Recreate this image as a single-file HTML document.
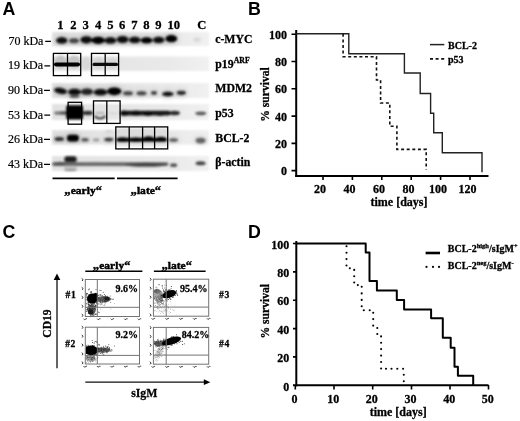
<!DOCTYPE html>
<html><head><meta charset="utf-8">
<style>
html,body{margin:0;padding:0;background:#fff;}
body{width:520px;height:421px;overflow:hidden;}
svg{display:block;will-change:transform;filter:blur(0.35px);}
.sans{font-family:"Liberation Sans",sans-serif;font-weight:bold;}
.ser{font-family:"Liberation Serif",serif;}
.ser{stroke:#000;stroke-width:0.2px;}
.b{font-weight:bold;stroke:#000;stroke-width:0.28px;}
</style></head>
<body>
<svg width="520" height="421" viewBox="0 0 520 421">
<defs>
<filter id="bl07" x="-50%" y="-50%" width="200%" height="200%"><feGaussianBlur stdDeviation="0.7"/></filter>
<filter id="bandf" x="-50%" y="-80%" width="200%" height="260%"><feGaussianBlur in="SourceGraphic" stdDeviation="1.25" result="a"/><feGaussianBlur in="SourceGraphic" stdDeviation="3.2" result="b"/><feComponentTransfer in="b" result="c"><feFuncA type="linear" slope="0.35"/></feComponentTransfer><feMerge><feMergeNode in="c"/><feMergeNode in="a"/></feMerge></filter>
<filter id="bl1" x="-50%" y="-50%" width="200%" height="200%"><feGaussianBlur stdDeviation="1"/></filter>
<filter id="bl2" x="-50%" y="-50%" width="200%" height="200%"><feGaussianBlur stdDeviation="1.3"/></filter>
<filter id="bl3" x="-50%" y="-50%" width="200%" height="200%"><feGaussianBlur stdDeviation="2.5"/></filter>
</defs>
<rect width="520" height="421" fill="#fff"/>

<!-- panel letters -->
<g class="sans" font-size="17.8" fill="#000">
<text x="2.6" y="14.8">A</text>
<text x="248" y="15">B</text>
<text x="2.6" y="237.9">C</text>
<text x="248" y="237.7">D</text>
</g>


<!-- ============ PANEL A ============ -->
<g id="panelA">
<g class="ser b" font-size="12.6" fill="#000" text-anchor="middle">
<text x="60.5" y="28.6">1</text><text x="73.4" y="28.6">2</text><text x="85.7" y="28.6">3</text><text x="98.2" y="28.6">4</text><text x="110.3" y="28.6">5</text><text x="122.1" y="28.6">6</text><text x="134.4" y="28.6">7</text><text x="146.5" y="28.6">8</text><text x="158.5" y="28.6">9</text><text x="173.8" y="28.6">10</text><text x="201.7" y="28.6">C</text>
</g>
<g class="ser" font-size="12" fill="#000">
<text x="8.4" y="44.8">70 kDa</text>
<text x="8" y="68.5">19 kDa</text>
<text x="8" y="93.8">90 kDa</text>
<text x="8" y="118.8">53 kDa</text>
<text x="8" y="142.8">26 kDa</text>
<text x="8" y="167.5">43 kDa</text>
</g>
<g stroke="#000" stroke-width="1.3">
<path d="M45.2 41.3 H51 M44.4 65.9 H50.2 M44 90.4 H49.9 M44.3 115.2 H50.2 M44 139.4 H50 M44 164.4 H50"/>
</g>
<g class="ser b" font-size="11.8" fill="#000">
<text x="215.2" y="43">c-MYC</text>
<text x="215.3" y="67.7">p19<tspan font-size="7.8" dy="-4.3">ARF</tspan></text>
<text x="215.3" y="92.4">MDM2</text>
<text x="215.3" y="117.1">p53</text>
<text x="215.3" y="141.7">BCL-2</text>
<text x="215.3" y="165.5">&#946;-actin</text>
</g>
<!-- strips -->
<defs>
<linearGradient id="sg" x1="0" x2="1" y1="0" y2="0"><stop offset="0" stop-color="#e2e2e2"/><stop offset="0.75" stop-color="#e9e9e9"/><stop offset="1" stop-color="#f1f1f1"/></linearGradient>
</defs>
<g fill="url(#sg)" filter="url(#bl2)">
<rect x="52" y="32" width="157" height="14"/>
<rect x="52" y="56.5" width="157" height="14.5"/>
<rect x="52" y="83" width="157" height="15"/>
<rect x="52" y="104" width="157" height="16"/>
<rect x="52" y="130" width="157" height="14.5"/>
<rect x="52" y="156" width="157" height="15"/>
</g>
<g filter="url(#bl2)"><ellipse cx="60.5" cy="62" rx="6.2" ry="6.5" fill="#c2c2c2"/><ellipse cx="74" cy="62" rx="6.2" ry="6.5" fill="#c6c6c6"/><ellipse cx="85.8" cy="63.5" rx="4.5" ry="6.5" fill="#d8d8d8"/><ellipse cx="98.5" cy="63" rx="6" ry="6" fill="#d4d4d4"/><ellipse cx="112" cy="63" rx="6" ry="6" fill="#d8d8d8"/></g>
<g filter="url(#bandf)"><ellipse cx="61.8" cy="40.4" rx="5.6" ry="3.2" fill="#0a0a0a"/><ellipse cx="74.0" cy="40.8" rx="5.0" ry="2.5" fill="#454545"/><ellipse cx="86.3" cy="39.8" rx="5.9" ry="3.6" fill="#0d0d0d"/><ellipse cx="98.2" cy="40.3" rx="6.6" ry="3.6" fill="#000"/><ellipse cx="110.4" cy="40.4" rx="6.0" ry="3.2" fill="#0a0a0a"/><ellipse cx="122.6" cy="39.5" rx="5.9" ry="3.5" fill="#0a0a0a"/><ellipse cx="134.7" cy="39.9" rx="5.8" ry="3.2" fill="#0d0d0d"/><ellipse cx="146.6" cy="40.3" rx="5.9" ry="3.0" fill="#000"/><ellipse cx="158.7" cy="39.9" rx="5.7" ry="3.2" fill="#0a0a0a"/><ellipse cx="171.3" cy="38.7" rx="5.9" ry="3.6" fill="#000"/><ellipse cx="197" cy="39.5" rx="3.5" ry="2" fill="#d8d8d8"/></g>
<g filter="url(#bl07)">
<rect x="54" y="62.4" width="26" height="4" rx="1.8" fill="#000"/>
<rect x="92.5" y="62.8" width="25.5" height="3.3" rx="1.5" fill="#0a0a0a"/>
</g>
<g filter="url(#bandf)"><ellipse cx="60.6" cy="90.9" rx="6.6" ry="2.9" fill="#0d0d0d" transform="rotate(10 60.6 90.9)"/><ellipse cx="74.5" cy="92.0" rx="6.5" ry="3.3" fill="#111"/><ellipse cx="74.5" cy="96.2" rx="5" ry="1.5" fill="#555"/><ellipse cx="87" cy="91.7" rx="6.0" ry="3.1" fill="#222"/><ellipse cx="100.5" cy="92.2" rx="6.8" ry="3.1" fill="#0a0a0a"/><ellipse cx="114.3" cy="91.3" rx="7.0" ry="3.9" fill="#000"/><ellipse cx="128" cy="93.2" rx="5.0" ry="2.0" fill="#444"/><ellipse cx="141.5" cy="93.2" rx="5.0" ry="2.0" fill="#444"/><ellipse cx="154" cy="92.9" rx="2.9" ry="1.9" fill="#3a3a3a"/><ellipse cx="167.8" cy="94" rx="5.8" ry="2.2" fill="#0d0d0d"/><ellipse cx="181.3" cy="92.8" rx="4.6" ry="2.1" fill="#262626"/></g>
<g filter="url(#bl2)">
<ellipse cx="58.5" cy="113" rx="4.5" ry="1.8" fill="#777"/>
<rect x="60" y="111.2" width="32" height="3.6" rx="1.8" fill="#555"/>
<ellipse cx="88" cy="113" rx="5" ry="2.2" fill="#333"/>
<ellipse cx="100" cy="108.5" rx="5.5" ry="4" fill="#e2e2e2"/>
<ellipse cx="100" cy="113" rx="5" ry="1.3" fill="#b5b5b5"/>
<ellipse cx="113" cy="113.3" rx="5" ry="1.1" fill="#d5d5d5"/>
<rect x="120.5" y="110.8" width="50" height="4.6" rx="2.2" fill="#141414"/>
<ellipse cx="124" cy="113.2" rx="4" ry="2.6" fill="#111"/>
<ellipse cx="136" cy="113" rx="4" ry="2.6" fill="#111"/>
<ellipse cx="148" cy="113.4" rx="4" ry="2.5" fill="#111"/>
<ellipse cx="160" cy="113.4" rx="4" ry="2.4" fill="#151515"/>
<ellipse cx="174.5" cy="113" rx="5.5" ry="2.3" fill="#2a2a2a"/>
<ellipse cx="200.8" cy="113.3" rx="5.6" ry="1.9" fill="#5a5a5a"/>
</g>
<g filter="url(#bl1)">
<rect x="66.2" y="105.2" width="16.8" height="14.4" rx="2" fill="#000"/>
<path d="M94.5 116 Q100 121 105.5 116" stroke="#333" stroke-width="2" fill="none"/>
</g>
<g filter="url(#bandf)"><ellipse cx="59.3" cy="139" rx="4.8" ry="2.0" fill="#333"/><rect x="67" y="134.8" width="11.8" height="6.8" rx="3" fill="#000"/><ellipse cx="85" cy="139.8" rx="3.8" ry="1.8" fill="#555"/><ellipse cx="96.2" cy="140" rx="3.2" ry="1.4" fill="#999"/><ellipse cx="108.8" cy="139.6" rx="4.6" ry="1.8" fill="#3a3a3a"/><ellipse cx="108.8" cy="131.6" rx="4" ry="1.2" fill="#d0d0d0"/><ellipse cx="173.5" cy="140" rx="4.6" ry="1.8" fill="#5a5a5a"/><ellipse cx="200.6" cy="140.6" rx="5" ry="2.8" fill="#666"/></g>
<g filter="url(#bl2)">
<rect x="64" y="156.5" width="13" height="14.5" fill="#c4c4c4"/>
<rect x="52" y="162.3" width="116.5" height="3.6" rx="1.8" fill="#666"/>
<ellipse cx="173.6" cy="165.2" rx="3.6" ry="1.9" fill="#555"/>
<ellipse cx="60" cy="163.6" rx="6" ry="1.8" fill="#555"/>
<ellipse cx="96" cy="164" rx="14" ry="1.5" fill="#6a6a6a"/>
<ellipse cx="146" cy="164.8" rx="21" ry="2" fill="#444"/>
<rect x="64.3" y="156.3" width="12.4" height="6" rx="2.5" fill="#1e1e1e"/>
<ellipse cx="70.5" cy="170.1" rx="5.5" ry="1" fill="#8a8a8a"/>
<ellipse cx="200.6" cy="163.3" rx="5" ry="2" fill="#444"/>
</g>
<g filter="url(#bl2)">
<rect x="116" y="128.5" width="51.5" height="9" fill="#dcdcdc"/>
<rect x="116" y="141" width="51.5" height="5" fill="#e0e0e0"/>
</g>
<g filter="url(#bl1)">
<rect x="116.3" y="137.7" width="50.8" height="4" rx="2" fill="#000"/>
<ellipse cx="122.6" cy="139.6" rx="5.5" ry="2.3" fill="#000"/>
<ellipse cx="135.9" cy="139.7" rx="5.5" ry="2.2" fill="#000"/>
<ellipse cx="148.6" cy="138.7" rx="5.5" ry="2.5" fill="#000"/>
<ellipse cx="161.1" cy="139.2" rx="5.5" ry="2.4" fill="#000"/>
</g>
<!-- boxes -->
<g fill="none" stroke="#000" stroke-width="1.3">
<rect x="53.4" y="53.4" width="27.3" height="22.2"/><path d="M67.5 53.4 V75.6"/>
<rect x="91.5" y="53.4" width="27.1" height="22.2"/><path d="M105.2 53.4 V75.6"/>
<rect x="68.1" y="102.3" width="13.5" height="21.9"/>
<rect x="93.5" y="100.9" width="26.6" height="22.5"/><path d="M106.8 100.9 V123.4"/>
<rect x="115.8" y="126.9" width="51.9" height="22"/><path d="M129.2 126.9 V148.9 M142.6 126.9 V148.9 M154.6 126.9 V148.9"/>
</g>
<g stroke="#000" stroke-width="1.7">
<path d="M52.5 178.3 H114.7 M117 178.3 H177.6"/>
</g>
<g class="ser b" font-size="11.3" fill="#000" style="stroke-width:0.45px">
<text transform="translate(64.3 194) scale(1.02 1)"><tspan font-size="12.6">&#8222;</tspan>early<tspan font-size="12" dy="1.2">&#8220;</tspan></text>
<text transform="translate(130.5 194) scale(1.02 1)"><tspan font-size="12.6">&#8222;</tspan>late<tspan font-size="12" dy="1.2">&#8220;</tspan></text>
</g>
</g>


<!-- ============ PANEL C ============ -->
<g id="panelC">
<defs>
<clipPath id="c1"><rect x="85.8" y="280" width="53.2" height="36"/></clipPath>
<clipPath id="c3"><rect x="153.9" y="279.7" width="54.3" height="36"/></clipPath>
<clipPath id="c2"><rect x="85.8" y="327.7" width="53.2" height="35.8"/></clipPath>
<clipPath id="c4"><rect x="153.9" y="327.9" width="54.3" height="35.8"/></clipPath>
</defs>
<g class="ser b" font-size="11.3" fill="#000" style="stroke-width:0.45px">
<text transform="translate(92.8 269) scale(1.02 1)"><tspan font-size="12.6">&#8222;</tspan>early<tspan font-size="12" dy="1.2">&#8220;</tspan></text>
<text transform="translate(161.4 268.8) scale(1.02 1)"><tspan font-size="12.6">&#8222;</tspan>late<tspan font-size="12" dy="1.2">&#8220;</tspan></text>
</g>
<path d="M85.3 271.3 H142.4 M153.9 271.3 H205.6" stroke="#000" stroke-width="1.4"/>
<g clip-path="url(#c1)"><g filter="url(#bl07)"><ellipse cx="104.5" cy="299" rx="6.5" ry="3" fill="#555"/><ellipse cx="91.6" cy="309.5" rx="4.2" ry="5.2" fill="#555"/></g><g><circle cx="87.2" cy="300.8" r="0.5" fill="#636363"/><circle cx="87.4" cy="300.3" r="0.5" fill="#4b4b4b"/><circle cx="95.9" cy="306.2" r="0.5" fill="#3c3c3c"/><circle cx="87.2" cy="293.8" r="0.5" fill="#0c0c0c"/><circle cx="90.4" cy="300.0" r="0.5" fill="#444444"/><circle cx="95.4" cy="293.2" r="0.5" fill="#050505"/><circle cx="89.0" cy="296.8" r="0.5" fill="#393939"/><circle cx="89.2" cy="294.4" r="0.5" fill="#141414"/><circle cx="86.6" cy="293.7" r="0.5" fill="#080808"/><circle cx="95.6" cy="300.2" r="0.5" fill="#1e1e1e"/><circle cx="86.3" cy="294.9" r="0.5" fill="#292929"/><circle cx="84.6" cy="302.1" r="0.5" fill="#424242"/><circle cx="93.2" cy="302.7" r="0.5" fill="#000000"/><circle cx="90.1" cy="295.2" r="0.5" fill="#232323"/><circle cx="87.9" cy="302.1" r="0.5" fill="#6b6b6b"/><circle cx="95.9" cy="300.8" r="0.5" fill="#616161"/><circle cx="93.3" cy="302.6" r="0.5" fill="#080808"/><circle cx="90.8" cy="298.4" r="0.5" fill="#0d0d0d"/><circle cx="95.4" cy="295.8" r="0.5" fill="#020202"/><circle cx="92.9" cy="299.1" r="0.5" fill="#1a1a1a"/><circle cx="94.2" cy="298.6" r="0.5" fill="#303030"/><circle cx="97.4" cy="298.7" r="0.5" fill="#090909"/><circle cx="90.0" cy="298.1" r="0.5" fill="#565656"/><circle cx="92.6" cy="301.0" r="0.5" fill="#2a2a2a"/><circle cx="97.5" cy="299.6" r="0.5" fill="#0f0f0f"/><circle cx="97.6" cy="304.1" r="0.5" fill="#010101"/><circle cx="100.4" cy="302.0" r="0.5" fill="#161616"/><circle cx="91.6" cy="296.7" r="0.5" fill="#414141"/><circle cx="95.5" cy="305.5" r="0.5" fill="#101010"/><circle cx="88.8" cy="301.2" r="0.5" fill="#323232"/><circle cx="90.0" cy="300.6" r="0.5" fill="#222222"/><circle cx="101.0" cy="290.6" r="0.5" fill="#4b4b4b"/><circle cx="89.6" cy="307.4" r="0.5" fill="#1a1a1a"/><circle cx="98.6" cy="312.0" r="0.5" fill="#4d4d4d"/><circle cx="91.5" cy="297.7" r="0.5" fill="#121212"/><circle cx="93.6" cy="302.4" r="0.5" fill="#626262"/><circle cx="86.1" cy="294.1" r="0.5" fill="#313131"/><circle cx="94.6" cy="300.0" r="0.5" fill="#4a4a4a"/><circle cx="92.3" cy="298.6" r="0.5" fill="#2f2f2f"/><circle cx="89.3" cy="302.5" r="0.5" fill="#4b4b4b"/><circle cx="86.8" cy="299.8" r="0.5" fill="#6e6e6e"/><circle cx="87.9" cy="303.1" r="0.5" fill="#272727"/><circle cx="99.9" cy="295.0" r="0.5" fill="#1f1f1f"/><circle cx="92.4" cy="296.8" r="0.5" fill="#505050"/><circle cx="95.6" cy="298.2" r="0.5" fill="#313131"/><circle cx="97.4" cy="295.3" r="0.5" fill="#353535"/><circle cx="94.9" cy="299.8" r="0.5" fill="#414141"/><circle cx="96.1" cy="298.5" r="0.5" fill="#5a5a5a"/><circle cx="89.1" cy="302.0" r="0.5" fill="#4c4c4c"/><circle cx="87.2" cy="299.5" r="0.5" fill="#5c5c5c"/><circle cx="95.2" cy="298.9" r="0.5" fill="#3d3d3d"/><circle cx="84.4" cy="296.2" r="0.5" fill="#4e4e4e"/><circle cx="95.6" cy="300.5" r="0.5" fill="#1a1a1a"/><circle cx="92.8" cy="297.6" r="0.5" fill="#343434"/><circle cx="91.3" cy="299.7" r="0.5" fill="#161616"/><circle cx="91.7" cy="304.3" r="0.5" fill="#101010"/><circle cx="94.9" cy="300.5" r="0.5" fill="#393939"/><circle cx="99.5" cy="298.4" r="0.5" fill="#585858"/><circle cx="81.8" cy="297.8" r="0.5" fill="#4b4b4b"/><circle cx="93.7" cy="299.4" r="0.5" fill="#2d2d2d"/><circle cx="89.2" cy="288.9" r="0.5" fill="#020202"/><circle cx="91.3" cy="298.2" r="0.5" fill="#080808"/><circle cx="92.3" cy="295.5" r="0.5" fill="#090909"/><circle cx="97.9" cy="301.6" r="0.5" fill="#5e5e5e"/><circle cx="103.2" cy="301.9" r="0.5" fill="#5e5e5e"/><circle cx="90.5" cy="292.1" r="0.5" fill="#2b2b2b"/><circle cx="88.6" cy="304.3" r="0.5" fill="#090909"/><circle cx="96.1" cy="296.0" r="0.5" fill="#656565"/><circle cx="98.1" cy="300.1" r="0.5" fill="#010101"/><circle cx="89.6" cy="296.3" r="0.5" fill="#4a4a4a"/><circle cx="94.6" cy="299.3" r="0.5" fill="#0b0b0b"/><circle cx="83.5" cy="289.0" r="0.5" fill="#353535"/><circle cx="92.2" cy="295.1" r="0.5" fill="#5e5e5e"/><circle cx="91.1" cy="294.8" r="0.5" fill="#3b3b3b"/><circle cx="93.8" cy="297.7" r="0.5" fill="#606060"/><circle cx="88.9" cy="298.9" r="0.5" fill="#0b0b0b"/><circle cx="89.5" cy="299.6" r="0.5" fill="#595959"/><circle cx="98.9" cy="304.0" r="0.5" fill="#545454"/><circle cx="95.9" cy="297.7" r="0.5" fill="#010101"/><circle cx="91.1" cy="300.9" r="0.5" fill="#4e4e4e"/><circle cx="93.6" cy="301.6" r="0.5" fill="#2b2b2b"/><circle cx="90.1" cy="295.4" r="0.5" fill="#1e1e1e"/><circle cx="89.6" cy="304.7" r="0.5" fill="#191919"/><circle cx="87.3" cy="293.5" r="0.5" fill="#606060"/><circle cx="100.9" cy="294.8" r="0.5" fill="#313131"/><circle cx="94.8" cy="308.5" r="0.5" fill="#1a1a1a"/><circle cx="96.3" cy="302.9" r="0.5" fill="#6b6b6b"/><circle cx="93.8" cy="298.5" r="0.5" fill="#080808"/><circle cx="96.3" cy="298.2" r="0.5" fill="#151515"/><circle cx="96.7" cy="302.3" r="0.5" fill="#1b1b1b"/><circle cx="95.0" cy="295.6" r="0.5" fill="#424242"/><circle cx="88.8" cy="299.3" r="0.5" fill="#6b6b6b"/><circle cx="96.3" cy="294.3" r="0.5" fill="#292929"/><circle cx="93.8" cy="299.7" r="0.5" fill="#4d4d4d"/><circle cx="99.8" cy="300.9" r="0.5" fill="#494949"/><circle cx="88.7" cy="304.0" r="0.5" fill="#484848"/><circle cx="95.3" cy="299.5" r="0.5" fill="#3a3a3a"/><circle cx="95.7" cy="305.9" r="0.5" fill="#222222"/><circle cx="93.0" cy="301.5" r="0.5" fill="#060606"/><circle cx="95.1" cy="299.0" r="0.5" fill="#0d0d0d"/><circle cx="88.2" cy="294.7" r="0.5" fill="#676767"/><circle cx="91.5" cy="300.4" r="0.5" fill="#191919"/><circle cx="94.4" cy="303.7" r="0.5" fill="#161616"/><circle cx="91.1" cy="292.3" r="0.5" fill="#444444"/><circle cx="92.2" cy="296.6" r="0.5" fill="#222222"/><circle cx="93.8" cy="294.1" r="0.5" fill="#424242"/><circle cx="77.2" cy="299.2" r="0.5" fill="#141414"/><circle cx="86.4" cy="303.8" r="0.5" fill="#1c1c1c"/><circle cx="101.9" cy="304.3" r="0.5" fill="#5c5c5c"/><circle cx="89.0" cy="302.2" r="0.5" fill="#191919"/><circle cx="85.7" cy="292.7" r="0.5" fill="#303030"/><circle cx="86.4" cy="297.3" r="0.5" fill="#404040"/><circle cx="96.0" cy="289.5" r="0.5" fill="#3b3b3b"/><circle cx="86.8" cy="309.8" r="0.5" fill="#0c0c0c"/><circle cx="91.3" cy="291.6" r="0.5" fill="#525252"/><circle cx="94.9" cy="298.2" r="0.5" fill="#1f1f1f"/><circle cx="103.2" cy="292.3" r="0.5" fill="#272727"/><circle cx="84.9" cy="297.5" r="0.5" fill="#292929"/><circle cx="92.3" cy="305.9" r="0.5" fill="#020202"/><circle cx="91.7" cy="300.6" r="0.5" fill="#383838"/><circle cx="90.2" cy="302.9" r="0.5" fill="#232323"/><circle cx="91.7" cy="299.3" r="0.5" fill="#676767"/><circle cx="96.1" cy="295.9" r="0.5" fill="#040404"/><circle cx="94.7" cy="302.6" r="0.5" fill="#646464"/><circle cx="97.3" cy="296.8" r="0.5" fill="#424242"/><circle cx="97.3" cy="296.2" r="0.5" fill="#565656"/><circle cx="88.7" cy="289.8" r="0.5" fill="#3f3f3f"/><circle cx="86.6" cy="296.1" r="0.5" fill="#616161"/><circle cx="93.8" cy="304.3" r="0.5" fill="#252525"/><circle cx="95.7" cy="294.5" r="0.5" fill="#151515"/><circle cx="84.0" cy="298.0" r="0.5" fill="#474747"/><circle cx="92.5" cy="305.5" r="0.5" fill="#6c6c6c"/><circle cx="97.1" cy="295.0" r="0.5" fill="#262626"/><circle cx="100.0" cy="290.3" r="0.5" fill="#434343"/><circle cx="92.0" cy="304.1" r="0.5" fill="#343434"/><circle cx="87.5" cy="298.1" r="0.5" fill="#4d4d4d"/><circle cx="88.7" cy="302.8" r="0.5" fill="#050505"/><circle cx="88.2" cy="298.8" r="0.5" fill="#666666"/><circle cx="95.1" cy="299.1" r="0.5" fill="#0b0b0b"/><circle cx="92.2" cy="297.8" r="0.5" fill="#444444"/><circle cx="82.8" cy="301.6" r="0.5" fill="#666666"/><circle cx="96.0" cy="297.7" r="0.5" fill="#3c3c3c"/><circle cx="88.6" cy="299.4" r="0.5" fill="#686868"/><circle cx="102.3" cy="295.5" r="0.5" fill="#434343"/><circle cx="91.6" cy="301.7" r="0.5" fill="#4f4f4f"/><circle cx="96.3" cy="299.8" r="0.5" fill="#595959"/><circle cx="93.0" cy="298.3" r="0.5" fill="#181818"/><circle cx="93.2" cy="299.7" r="0.5" fill="#242424"/><circle cx="90.9" cy="302.7" r="0.5" fill="#4f4f4f"/><circle cx="87.4" cy="299.2" r="0.5" fill="#4a4a4a"/><circle cx="96.7" cy="302.7" r="0.5" fill="#202020"/><circle cx="91.4" cy="292.8" r="0.5" fill="#373737"/><circle cx="99.2" cy="300.1" r="0.5" fill="#696969"/><circle cx="90.1" cy="298.7" r="0.5" fill="#1a1a1a"/><circle cx="96.5" cy="295.3" r="0.5" fill="#1b1b1b"/><circle cx="84.0" cy="297.7" r="0.5" fill="#4e4e4e"/><circle cx="90.7" cy="298.0" r="0.5" fill="#5e5e5e"/><circle cx="89.8" cy="296.4" r="0.5" fill="#171717"/><circle cx="91.2" cy="302.5" r="0.5" fill="#181818"/><circle cx="96.1" cy="313.9" r="0.5" fill="#0c0c0c"/><circle cx="106.0" cy="300.7" r="0.5" fill="#717171"/><circle cx="107.4" cy="300.6" r="0.5" fill="#4b4b4b"/><circle cx="106.1" cy="297.5" r="0.5" fill="#6e6e6e"/><circle cx="106.9" cy="301.1" r="0.5" fill="#6b6b6b"/><circle cx="104.5" cy="298.6" r="0.5" fill="#5c5c5c"/><circle cx="100.4" cy="295.1" r="0.5" fill="#424242"/><circle cx="107.6" cy="301.2" r="0.5" fill="#757575"/><circle cx="96.0" cy="306.1" r="0.5" fill="#2c2c2c"/><circle cx="105.5" cy="297.1" r="0.5" fill="#171717"/><circle cx="108.9" cy="300.1" r="0.5" fill="#555555"/><circle cx="107.8" cy="298.1" r="0.5" fill="#2c2c2c"/><circle cx="105.1" cy="300.9" r="0.5" fill="#282828"/><circle cx="113.1" cy="299.2" r="0.5" fill="#202020"/><circle cx="102.1" cy="298.9" r="0.5" fill="#6b6b6b"/><circle cx="97.4" cy="300.4" r="0.5" fill="#3d3d3d"/><circle cx="100.7" cy="301.0" r="0.5" fill="#414141"/><circle cx="99.1" cy="300.8" r="0.5" fill="#151515"/><circle cx="103.2" cy="299.0" r="0.5" fill="#2d2d2d"/><circle cx="105.8" cy="301.7" r="0.5" fill="#727272"/><circle cx="97.8" cy="303.1" r="0.5" fill="#616161"/><circle cx="106.4" cy="301.8" r="0.5" fill="#151515"/><circle cx="103.2" cy="300.3" r="0.5" fill="#6e6e6e"/><circle cx="110.2" cy="296.1" r="0.5" fill="#474747"/><circle cx="101.6" cy="298.9" r="0.5" fill="#5e5e5e"/><circle cx="111.2" cy="299.1" r="0.5" fill="#353535"/><circle cx="103.6" cy="300.6" r="0.5" fill="#737373"/><circle cx="105.3" cy="295.5" r="0.5" fill="#474747"/><circle cx="106.4" cy="301.0" r="0.5" fill="#585858"/><circle cx="101.7" cy="296.0" r="0.5" fill="#757575"/><circle cx="105.1" cy="300.9" r="0.5" fill="#2b2b2b"/><circle cx="107.3" cy="300.4" r="0.5" fill="#505050"/><circle cx="110.7" cy="302.2" r="0.5" fill="#656565"/><circle cx="105.0" cy="299.1" r="0.5" fill="#363636"/><circle cx="109.6" cy="298.4" r="0.5" fill="#3f3f3f"/><circle cx="104.9" cy="301.7" r="0.5" fill="#2b2b2b"/><circle cx="100.1" cy="299.0" r="0.5" fill="#535353"/><circle cx="100.1" cy="296.8" r="0.5" fill="#757575"/><circle cx="99.9" cy="301.3" r="0.5" fill="#222222"/><circle cx="99.1" cy="297.1" r="0.5" fill="#343434"/><circle cx="99.6" cy="300.4" r="0.5" fill="#757575"/><circle cx="105.3" cy="301.5" r="0.5" fill="#202020"/><circle cx="103.8" cy="301.3" r="0.5" fill="#3f3f3f"/><circle cx="99.5" cy="298.7" r="0.5" fill="#565656"/><circle cx="92.1" cy="296.5" r="0.5" fill="#656565"/><circle cx="98.6" cy="300.6" r="0.5" fill="#5a5a5a"/><circle cx="98.5" cy="297.4" r="0.5" fill="#191919"/><circle cx="96.9" cy="302.9" r="0.5" fill="#454545"/><circle cx="101.6" cy="299.7" r="0.5" fill="#535353"/><circle cx="98.8" cy="298.7" r="0.5" fill="#4a4a4a"/><circle cx="107.9" cy="298.7" r="0.5" fill="#575757"/><circle cx="101.2" cy="300.6" r="0.5" fill="#575757"/><circle cx="102.7" cy="302.6" r="0.5" fill="#5b5b5b"/><circle cx="109.3" cy="298.1" r="0.5" fill="#737373"/><circle cx="103.8" cy="299.9" r="0.5" fill="#333333"/><circle cx="99.1" cy="297.9" r="0.5" fill="#484848"/><circle cx="104.1" cy="297.3" r="0.5" fill="#3c3c3c"/><circle cx="104.0" cy="298.8" r="0.5" fill="#707070"/><circle cx="105.5" cy="299.2" r="0.5" fill="#303030"/><circle cx="99.9" cy="300.6" r="0.5" fill="#747474"/><circle cx="104.2" cy="302.2" r="0.5" fill="#707070"/><circle cx="105.9" cy="298.8" r="0.5" fill="#333333"/><circle cx="102.4" cy="298.8" r="0.5" fill="#636363"/><circle cx="102.3" cy="300.0" r="0.5" fill="#1a1a1a"/><circle cx="102.6" cy="300.5" r="0.5" fill="#424242"/><circle cx="98.4" cy="300.6" r="0.5" fill="#4e4e4e"/><circle cx="99.4" cy="297.6" r="0.5" fill="#6b6b6b"/><circle cx="97.9" cy="301.3" r="0.5" fill="#575757"/><circle cx="104.9" cy="298.4" r="0.5" fill="#393939"/><circle cx="103.7" cy="297.9" r="0.5" fill="#222222"/><circle cx="100.6" cy="299.5" r="0.5" fill="#545454"/><circle cx="101.3" cy="298.0" r="0.5" fill="#363636"/><circle cx="99.0" cy="297.2" r="0.5" fill="#6d6d6d"/><circle cx="99.2" cy="297.8" r="0.5" fill="#747474"/><circle cx="104.7" cy="304.9" r="0.5" fill="#545454"/><circle cx="112.8" cy="298.9" r="0.5" fill="#6b6b6b"/><circle cx="105.4" cy="299.7" r="0.5" fill="#363636"/><circle cx="103.9" cy="300.0" r="0.5" fill="#181818"/><circle cx="108.0" cy="301.1" r="0.5" fill="#1d1d1d"/><circle cx="104.3" cy="294.6" r="0.5" fill="#282828"/><circle cx="98.6" cy="298.5" r="0.5" fill="#434343"/><circle cx="100.3" cy="299.7" r="0.5" fill="#3f3f3f"/><circle cx="100.3" cy="302.5" r="0.5" fill="#1d1d1d"/><circle cx="105.4" cy="297.2" r="0.5" fill="#636363"/><circle cx="107.6" cy="296.3" r="0.5" fill="#4c4c4c"/><circle cx="101.3" cy="300.3" r="0.5" fill="#272727"/><circle cx="100.0" cy="301.8" r="0.5" fill="#606060"/><circle cx="101.7" cy="302.0" r="0.5" fill="#737373"/><circle cx="105.2" cy="298.3" r="0.5" fill="#676767"/><circle cx="102.8" cy="300.2" r="0.5" fill="#3d3d3d"/><circle cx="105.5" cy="299.9" r="0.5" fill="#5c5c5c"/><circle cx="97.3" cy="297.8" r="0.5" fill="#4f4f4f"/><circle cx="101.9" cy="303.1" r="0.5" fill="#1d1d1d"/><circle cx="100.8" cy="304.0" r="0.5" fill="#616161"/><circle cx="107.0" cy="300.4" r="0.5" fill="#707070"/><circle cx="104.3" cy="297.5" r="0.5" fill="#262626"/><circle cx="105.1" cy="302.7" r="0.5" fill="#3d3d3d"/><circle cx="102.7" cy="300.3" r="0.5" fill="#6e6e6e"/><circle cx="99.0" cy="300.6" r="0.5" fill="#6b6b6b"/><circle cx="107.7" cy="298.3" r="0.5" fill="#3b3b3b"/><circle cx="101.3" cy="299.9" r="0.5" fill="#717171"/><circle cx="106.4" cy="298.5" r="0.5" fill="#424242"/><circle cx="104.4" cy="299.1" r="0.5" fill="#6a6a6a"/><circle cx="100.9" cy="300.8" r="0.5" fill="#2c2c2c"/><circle cx="103.7" cy="297.4" r="0.5" fill="#454545"/><circle cx="96.6" cy="298.4" r="0.5" fill="#5c5c5c"/><circle cx="104.8" cy="300.4" r="0.5" fill="#4e4e4e"/><circle cx="106.4" cy="298.3" r="0.5" fill="#161616"/><circle cx="104.2" cy="300.2" r="0.5" fill="#282828"/><circle cx="94.5" cy="297.1" r="0.5" fill="#676767"/><circle cx="106.3" cy="297.6" r="0.5" fill="#5e5e5e"/><circle cx="97.3" cy="298.4" r="0.5" fill="#1e1e1e"/><circle cx="102.4" cy="301.0" r="0.5" fill="#212121"/><circle cx="105.4" cy="299.0" r="0.5" fill="#656565"/><circle cx="103.0" cy="298.7" r="0.5" fill="#676767"/><circle cx="98.4" cy="301.1" r="0.5" fill="#525252"/><circle cx="104.5" cy="296.8" r="0.5" fill="#757575"/><circle cx="100.4" cy="300.0" r="0.5" fill="#3e3e3e"/><circle cx="101.8" cy="297.2" r="0.5" fill="#585858"/><circle cx="104.5" cy="298.7" r="0.5" fill="#636363"/><circle cx="107.5" cy="298.3" r="0.5" fill="#696969"/><circle cx="90.9" cy="310.3" r="0.5" fill="#444444"/><circle cx="93.9" cy="302.8" r="0.5" fill="#595959"/><circle cx="88.8" cy="306.2" r="0.5" fill="#6e6e6e"/><circle cx="92.3" cy="310.1" r="0.5" fill="#494949"/><circle cx="92.8" cy="308.5" r="0.5" fill="#282828"/><circle cx="93.7" cy="309.8" r="0.5" fill="#292929"/><circle cx="89.8" cy="313.6" r="0.5" fill="#575757"/><circle cx="89.1" cy="320.2" r="0.5" fill="#1b1b1b"/><circle cx="86.5" cy="311.2" r="0.5" fill="#3a3a3a"/><circle cx="88.1" cy="304.5" r="0.5" fill="#2a2a2a"/><circle cx="95.0" cy="306.5" r="0.5" fill="#161616"/><circle cx="85.7" cy="305.6" r="0.5" fill="#181818"/><circle cx="90.3" cy="312.5" r="0.5" fill="#414141"/><circle cx="91.4" cy="312.9" r="0.5" fill="#6f6f6f"/><circle cx="87.7" cy="310.8" r="0.5" fill="#4c4c4c"/><circle cx="91.9" cy="313.0" r="0.5" fill="#2a2a2a"/><circle cx="96.6" cy="305.0" r="0.5" fill="#646464"/><circle cx="86.1" cy="307.8" r="0.5" fill="#515151"/><circle cx="93.0" cy="306.3" r="0.5" fill="#474747"/><circle cx="93.2" cy="308.1" r="0.5" fill="#5a5a5a"/><circle cx="91.2" cy="308.3" r="0.5" fill="#303030"/><circle cx="89.4" cy="311.7" r="0.5" fill="#252525"/><circle cx="91.9" cy="306.3" r="0.5" fill="#575757"/><circle cx="92.3" cy="303.4" r="0.5" fill="#787878"/><circle cx="95.1" cy="309.6" r="0.5" fill="#323232"/><circle cx="95.4" cy="304.9" r="0.5" fill="#434343"/><circle cx="89.0" cy="310.9" r="0.5" fill="#494949"/><circle cx="89.7" cy="308.6" r="0.5" fill="#282828"/><circle cx="91.2" cy="307.8" r="0.5" fill="#565656"/><circle cx="94.1" cy="314.8" r="0.5" fill="#636363"/><circle cx="90.6" cy="314.9" r="0.5" fill="#272727"/><circle cx="89.4" cy="308.9" r="0.5" fill="#2e2e2e"/><circle cx="93.4" cy="303.0" r="0.5" fill="#242424"/><circle cx="92.9" cy="311.6" r="0.5" fill="#6f6f6f"/><circle cx="85.2" cy="308.5" r="0.5" fill="#6c6c6c"/><circle cx="84.1" cy="312.0" r="0.5" fill="#5f5f5f"/><circle cx="87.8" cy="308.7" r="0.5" fill="#161616"/><circle cx="91.7" cy="306.0" r="0.5" fill="#6b6b6b"/><circle cx="95.4" cy="314.0" r="0.5" fill="#2e2e2e"/><circle cx="93.8" cy="311.0" r="0.5" fill="#535353"/><circle cx="93.9" cy="316.3" r="0.5" fill="#3b3b3b"/><circle cx="89.8" cy="313.7" r="0.5" fill="#5b5b5b"/><circle cx="89.9" cy="314.2" r="0.5" fill="#6f6f6f"/><circle cx="92.0" cy="310.6" r="0.5" fill="#252525"/><circle cx="93.2" cy="312.5" r="0.5" fill="#4f4f4f"/><circle cx="90.9" cy="303.0" r="0.5" fill="#232323"/><circle cx="90.7" cy="309.5" r="0.5" fill="#444444"/><circle cx="90.2" cy="305.6" r="0.5" fill="#393939"/><circle cx="88.1" cy="308.3" r="0.5" fill="#151515"/><circle cx="94.3" cy="303.9" r="0.5" fill="#707070"/><circle cx="92.0" cy="315.3" r="0.5" fill="#393939"/><circle cx="86.4" cy="303.2" r="0.5" fill="#737373"/><circle cx="90.2" cy="313.5" r="0.5" fill="#464646"/><circle cx="89.9" cy="309.4" r="0.5" fill="#2c2c2c"/><circle cx="92.4" cy="316.2" r="0.5" fill="#3e3e3e"/><circle cx="90.2" cy="313.0" r="0.5" fill="#505050"/><circle cx="90.6" cy="306.5" r="0.5" fill="#444444"/><circle cx="92.3" cy="311.2" r="0.5" fill="#202020"/><circle cx="93.7" cy="314.1" r="0.5" fill="#2a2a2a"/><circle cx="92.2" cy="313.7" r="0.5" fill="#4f4f4f"/><circle cx="90.0" cy="309.0" r="0.5" fill="#313131"/><circle cx="99.1" cy="312.4" r="0.5" fill="#4b4b4b"/><circle cx="90.1" cy="310.9" r="0.5" fill="#4a4a4a"/><circle cx="92.4" cy="309.0" r="0.5" fill="#2e2e2e"/><circle cx="91.5" cy="302.6" r="0.5" fill="#454545"/><circle cx="84.7" cy="311.0" r="0.5" fill="#636363"/><circle cx="93.8" cy="310.4" r="0.5" fill="#6d6d6d"/><circle cx="89.0" cy="316.4" r="0.5" fill="#333333"/><circle cx="88.9" cy="305.4" r="0.5" fill="#161616"/><circle cx="90.9" cy="312.6" r="0.5" fill="#3b3b3b"/><circle cx="90.2" cy="308.5" r="0.5" fill="#444444"/><circle cx="91.7" cy="313.5" r="0.5" fill="#393939"/><circle cx="92.8" cy="305.1" r="0.5" fill="#282828"/><circle cx="90.9" cy="315.0" r="0.5" fill="#3a3a3a"/><circle cx="88.5" cy="308.9" r="0.5" fill="#545454"/><circle cx="87.4" cy="309.6" r="0.5" fill="#2d2d2d"/><circle cx="94.4" cy="309.6" r="0.5" fill="#6f6f6f"/><circle cx="89.2" cy="301.0" r="0.5" fill="#5c5c5c"/><circle cx="94.7" cy="308.1" r="0.5" fill="#2d2d2d"/><circle cx="91.3" cy="307.9" r="0.5" fill="#515151"/><circle cx="87.2" cy="307.1" r="0.5" fill="#3e3e3e"/><circle cx="95.8" cy="314.4" r="0.5" fill="#363636"/><circle cx="89.6" cy="310.5" r="0.5" fill="#717171"/><circle cx="95.0" cy="316.5" r="0.5" fill="#595959"/><circle cx="90.0" cy="309.6" r="0.5" fill="#353535"/><circle cx="93.3" cy="315.8" r="0.5" fill="#3e3e3e"/><circle cx="89.8" cy="308.8" r="0.5" fill="#141414"/><circle cx="89.6" cy="318.3" r="0.5" fill="#323232"/><circle cx="91.1" cy="306.2" r="0.5" fill="#292929"/><circle cx="92.4" cy="314.6" r="0.5" fill="#1d1d1d"/><circle cx="88.3" cy="311.2" r="0.5" fill="#787878"/><circle cx="97.6" cy="309.2" r="0.5" fill="#686868"/><circle cx="94.0" cy="315.1" r="0.5" fill="#727272"/><circle cx="94.2" cy="306.9" r="0.5" fill="#656565"/><circle cx="91.2" cy="309.3" r="0.5" fill="#2d2d2d"/><circle cx="90.4" cy="310.5" r="0.5" fill="#575757"/><circle cx="88.3" cy="313.4" r="0.5" fill="#2a2a2a"/><circle cx="90.2" cy="311.8" r="0.5" fill="#333333"/><circle cx="88.7" cy="308.5" r="0.5" fill="#666666"/><circle cx="91.9" cy="303.7" r="0.5" fill="#787878"/><circle cx="110.9" cy="309.0" r="0.4" fill="#9c9c9c"/><circle cx="105.2" cy="303.9" r="0.4" fill="#9f9f9f"/><circle cx="107.7" cy="299.7" r="0.4" fill="#848484"/><circle cx="100.1" cy="298.0" r="0.4" fill="#8b8b8b"/><circle cx="107.2" cy="296.2" r="0.4" fill="#848484"/><circle cx="101.6" cy="300.4" r="0.4" fill="#5e5e5e"/><circle cx="107.1" cy="299.6" r="0.4" fill="#939393"/><circle cx="92.8" cy="301.5" r="0.4" fill="#535353"/><circle cx="99.0" cy="303.1" r="0.4" fill="#9e9e9e"/><circle cx="109.2" cy="298.7" r="0.4" fill="#9c9c9c"/><circle cx="94.6" cy="307.6" r="0.4" fill="#9b9b9b"/><circle cx="103.8" cy="300.2" r="0.4" fill="#898989"/><circle cx="100.7" cy="309.1" r="0.4" fill="#565656"/><circle cx="96.7" cy="302.3" r="0.4" fill="#6e6e6e"/><circle cx="90.2" cy="300.6" r="0.4" fill="#6e6e6e"/><circle cx="119.4" cy="292.9" r="0.4" fill="#a5a5a5"/><circle cx="94.0" cy="305.2" r="0.4" fill="#989898"/><circle cx="101.7" cy="299.7" r="0.4" fill="#858585"/><circle cx="86.2" cy="298.9" r="0.4" fill="#5c5c5c"/><circle cx="96.3" cy="301.8" r="0.4" fill="#949494"/><circle cx="93.2" cy="300.2" r="0.4" fill="#757575"/><circle cx="100.2" cy="304.9" r="0.4" fill="#797979"/><circle cx="103.6" cy="305.3" r="0.4" fill="#898989"/><circle cx="102.8" cy="298.8" r="0.4" fill="#7d7d7d"/><circle cx="98.2" cy="299.6" r="0.4" fill="#777777"/><circle cx="114.7" cy="303.5" r="0.4" fill="#777777"/><circle cx="98.2" cy="303.7" r="0.4" fill="#8c8c8c"/><circle cx="103.4" cy="300.4" r="0.4" fill="#a8a8a8"/><circle cx="103.7" cy="300.6" r="0.4" fill="#7d7d7d"/><circle cx="101.0" cy="301.6" r="0.4" fill="#a1a1a1"/></g><g filter="url(#bl07)"><ellipse cx="107" cy="298.6" rx="2.6" ry="1.9" fill="#1a1a1a"/><ellipse cx="90.6" cy="311.8" rx="2.6" ry="2.4" fill="#1a1a1a"/><ellipse cx="92.4" cy="298.6" rx="5.4" ry="5" fill="#000"/><ellipse cx="95.8" cy="295.3" rx="2.6" ry="2.2" fill="#000"/></g></g>
<g clip-path="url(#c3)"><g filter="url(#bl07)"><ellipse cx="158.5" cy="296" rx="5" ry="6.5" fill="#a8a8a8"/><ellipse cx="157" cy="291" rx="3" ry="2" fill="#666"/></g><g><circle cx="164.8" cy="295.2" r="0.5" fill="#060606"/><circle cx="165.5" cy="293.5" r="0.5" fill="#282828"/><circle cx="172.2" cy="292.7" r="0.5" fill="#353535"/><circle cx="167.5" cy="293.3" r="0.5" fill="#595959"/><circle cx="176.4" cy="290.6" r="0.5" fill="#353535"/><circle cx="171.9" cy="294.2" r="0.5" fill="#272727"/><circle cx="174.9" cy="295.2" r="0.5" fill="#222222"/><circle cx="170.6" cy="295.5" r="0.5" fill="#555555"/><circle cx="168.0" cy="296.7" r="0.5" fill="#545454"/><circle cx="166.0" cy="295.0" r="0.5" fill="#424242"/><circle cx="169.7" cy="296.3" r="0.5" fill="#171717"/><circle cx="166.0" cy="293.3" r="0.5" fill="#515151"/><circle cx="165.0" cy="292.9" r="0.5" fill="#090909"/><circle cx="163.2" cy="297.3" r="0.5" fill="#434343"/><circle cx="168.9" cy="294.1" r="0.5" fill="#4b4b4b"/><circle cx="168.3" cy="296.5" r="0.5" fill="#484848"/><circle cx="172.3" cy="294.3" r="0.5" fill="#181818"/><circle cx="169.3" cy="296.4" r="0.5" fill="#464646"/><circle cx="169.8" cy="293.9" r="0.5" fill="#3b3b3b"/><circle cx="173.6" cy="290.9" r="0.5" fill="#000000"/><circle cx="173.3" cy="291.4" r="0.5" fill="#171717"/><circle cx="176.9" cy="293.5" r="0.5" fill="#2e2e2e"/><circle cx="166.9" cy="297.8" r="0.5" fill="#040404"/><circle cx="162.6" cy="296.0" r="0.5" fill="#515151"/><circle cx="165.2" cy="292.4" r="0.5" fill="#444444"/><circle cx="173.7" cy="296.9" r="0.5" fill="#151515"/><circle cx="173.1" cy="294.8" r="0.5" fill="#555555"/><circle cx="161.1" cy="298.5" r="0.5" fill="#1e1e1e"/><circle cx="169.1" cy="297.6" r="0.5" fill="#4a4a4a"/><circle cx="165.1" cy="294.2" r="0.5" fill="#191919"/><circle cx="161.3" cy="294.2" r="0.5" fill="#494949"/><circle cx="159.4" cy="299.2" r="0.5" fill="#292929"/><circle cx="169.2" cy="294.6" r="0.5" fill="#3f3f3f"/><circle cx="169.6" cy="291.0" r="0.5" fill="#212121"/><circle cx="169.1" cy="293.7" r="0.5" fill="#0e0e0e"/><circle cx="173.3" cy="290.9" r="0.5" fill="#454545"/><circle cx="160.9" cy="294.8" r="0.5" fill="#4f4f4f"/><circle cx="171.6" cy="295.3" r="0.5" fill="#050505"/><circle cx="164.0" cy="291.1" r="0.5" fill="#434343"/><circle cx="168.8" cy="289.7" r="0.5" fill="#3f3f3f"/><circle cx="177.1" cy="294.3" r="0.5" fill="#151515"/><circle cx="166.2" cy="296.6" r="0.5" fill="#3f3f3f"/><circle cx="163.7" cy="291.2" r="0.5" fill="#3a3a3a"/><circle cx="173.5" cy="293.8" r="0.5" fill="#2e2e2e"/><circle cx="164.9" cy="291.5" r="0.5" fill="#050505"/><circle cx="175.2" cy="295.5" r="0.5" fill="#4c4c4c"/><circle cx="171.2" cy="293.4" r="0.5" fill="#3a3a3a"/><circle cx="153.9" cy="298.1" r="0.5" fill="#000000"/><circle cx="170.8" cy="299.4" r="0.5" fill="#121212"/><circle cx="174.3" cy="294.4" r="0.5" fill="#3c3c3c"/><circle cx="166.9" cy="295.4" r="0.5" fill="#040404"/><circle cx="164.0" cy="291.9" r="0.5" fill="#4e4e4e"/><circle cx="169.6" cy="296.1" r="0.5" fill="#464646"/><circle cx="171.0" cy="291.3" r="0.5" fill="#0b0b0b"/><circle cx="172.5" cy="292.0" r="0.5" fill="#2b2b2b"/><circle cx="173.6" cy="293.4" r="0.5" fill="#535353"/><circle cx="176.5" cy="291.6" r="0.5" fill="#484848"/><circle cx="163.6" cy="290.8" r="0.5" fill="#4b4b4b"/><circle cx="171.0" cy="292.8" r="0.5" fill="#323232"/><circle cx="171.4" cy="292.7" r="0.5" fill="#303030"/><circle cx="168.6" cy="292.5" r="0.5" fill="#2c2c2c"/><circle cx="170.1" cy="298.7" r="0.5" fill="#141414"/><circle cx="163.6" cy="296.3" r="0.5" fill="#4c4c4c"/><circle cx="164.5" cy="296.2" r="0.5" fill="#393939"/><circle cx="161.6" cy="296.9" r="0.5" fill="#171717"/><circle cx="170.3" cy="292.4" r="0.5" fill="#313131"/><circle cx="167.3" cy="295.2" r="0.5" fill="#232323"/><circle cx="166.4" cy="296.7" r="0.5" fill="#020202"/><circle cx="160.3" cy="296.5" r="0.5" fill="#414141"/><circle cx="160.9" cy="300.7" r="0.5" fill="#1b1b1b"/><circle cx="168.7" cy="296.9" r="0.5" fill="#131313"/><circle cx="165.9" cy="290.5" r="0.5" fill="#111111"/><circle cx="168.0" cy="290.2" r="0.5" fill="#0f0f0f"/><circle cx="172.9" cy="293.3" r="0.5" fill="#313131"/><circle cx="159.8" cy="298.9" r="0.5" fill="#303030"/><circle cx="165.9" cy="299.4" r="0.5" fill="#424242"/><circle cx="165.9" cy="293.2" r="0.5" fill="#4d4d4d"/><circle cx="168.8" cy="295.1" r="0.5" fill="#131313"/><circle cx="165.9" cy="295.1" r="0.5" fill="#1a1a1a"/><circle cx="167.3" cy="297.4" r="0.5" fill="#454545"/><circle cx="165.5" cy="292.3" r="0.5" fill="#464646"/><circle cx="169.3" cy="298.5" r="0.5" fill="#555555"/><circle cx="162.4" cy="300.3" r="0.5" fill="#232323"/><circle cx="163.0" cy="295.5" r="0.5" fill="#111111"/><circle cx="162.1" cy="300.1" r="0.5" fill="#1c1c1c"/><circle cx="172.8" cy="294.6" r="0.5" fill="#4e4e4e"/><circle cx="169.0" cy="295.0" r="0.5" fill="#030303"/><circle cx="167.5" cy="291.6" r="0.5" fill="#010101"/><circle cx="171.3" cy="286.5" r="0.5" fill="#262626"/><circle cx="167.3" cy="293.9" r="0.5" fill="#1b1b1b"/><circle cx="163.9" cy="295.0" r="0.5" fill="#0f0f0f"/><circle cx="168.7" cy="292.3" r="0.5" fill="#363636"/><circle cx="173.3" cy="295.0" r="0.5" fill="#3e3e3e"/><circle cx="165.7" cy="296.9" r="0.5" fill="#3f3f3f"/><circle cx="166.9" cy="293.1" r="0.5" fill="#333333"/><circle cx="172.3" cy="297.6" r="0.5" fill="#2c2c2c"/><circle cx="166.1" cy="293.4" r="0.5" fill="#0b0b0b"/><circle cx="166.3" cy="289.2" r="0.5" fill="#131313"/><circle cx="164.8" cy="295.9" r="0.5" fill="#464646"/><circle cx="166.2" cy="300.8" r="0.5" fill="#323232"/><circle cx="177.6" cy="295.6" r="0.5" fill="#333333"/><circle cx="168.6" cy="297.0" r="0.5" fill="#4a4a4a"/><circle cx="167.3" cy="298.9" r="0.5" fill="#202020"/><circle cx="169.8" cy="294.3" r="0.5" fill="#292929"/><circle cx="172.8" cy="290.8" r="0.5" fill="#212121"/><circle cx="171.1" cy="288.3" r="0.5" fill="#525252"/><circle cx="162.0" cy="297.2" r="0.5" fill="#2e2e2e"/><circle cx="176.3" cy="292.7" r="0.5" fill="#1b1b1b"/><circle cx="168.3" cy="290.7" r="0.5" fill="#4f4f4f"/><circle cx="161.6" cy="295.6" r="0.5" fill="#080808"/><circle cx="168.5" cy="299.5" r="0.5" fill="#393939"/><circle cx="161.7" cy="300.7" r="0.5" fill="#040404"/><circle cx="169.8" cy="290.1" r="0.5" fill="#222222"/><circle cx="167.5" cy="297.1" r="0.5" fill="#020202"/><circle cx="170.8" cy="295.1" r="0.5" fill="#1d1d1d"/><circle cx="168.9" cy="296.2" r="0.5" fill="#424242"/><circle cx="164.0" cy="297.0" r="0.45" fill="#5a5a5a"/><circle cx="164.0" cy="297.2" r="0.45" fill="#949494"/><circle cx="156.0" cy="290.9" r="0.45" fill="#777777"/><circle cx="162.7" cy="285.8" r="0.45" fill="#808080"/><circle cx="162.5" cy="295.9" r="0.45" fill="#545454"/><circle cx="159.6" cy="297.7" r="0.45" fill="#8f8f8f"/><circle cx="157.7" cy="288.0" r="0.45" fill="#7f7f7f"/><circle cx="160.4" cy="300.3" r="0.45" fill="#3c3c3c"/><circle cx="162.0" cy="304.0" r="0.45" fill="#666666"/><circle cx="160.1" cy="292.3" r="0.45" fill="#5d5d5d"/><circle cx="157.5" cy="306.7" r="0.45" fill="#6c6c6c"/><circle cx="153.2" cy="297.1" r="0.45" fill="#565656"/><circle cx="157.9" cy="300.3" r="0.45" fill="#696969"/><circle cx="158.4" cy="284.7" r="0.45" fill="#303030"/><circle cx="162.4" cy="285.6" r="0.45" fill="#4f4f4f"/><circle cx="162.3" cy="301.3" r="0.45" fill="#8a8a8a"/><circle cx="158.5" cy="295.4" r="0.45" fill="#777777"/><circle cx="164.4" cy="288.0" r="0.45" fill="#2e2e2e"/><circle cx="156.7" cy="302.0" r="0.45" fill="#868686"/><circle cx="160.1" cy="291.3" r="0.45" fill="#838383"/><circle cx="156.5" cy="292.7" r="0.45" fill="#7f7f7f"/><circle cx="157.3" cy="301.8" r="0.45" fill="#898989"/><circle cx="160.4" cy="304.4" r="0.45" fill="#383838"/><circle cx="155.2" cy="294.4" r="0.45" fill="#828282"/><circle cx="163.6" cy="304.0" r="0.45" fill="#4a4a4a"/><circle cx="159.7" cy="294.1" r="0.45" fill="#585858"/><circle cx="156.6" cy="293.6" r="0.45" fill="#7b7b7b"/><circle cx="159.3" cy="297.9" r="0.45" fill="#727272"/><circle cx="156.6" cy="287.0" r="0.45" fill="#9e9e9e"/><circle cx="163.1" cy="303.8" r="0.45" fill="#5d5d5d"/><circle cx="158.9" cy="305.9" r="0.45" fill="#595959"/><circle cx="170.0" cy="289.7" r="0.45" fill="#2e2e2e"/><circle cx="166.6" cy="314.3" r="0.45" fill="#979797"/><circle cx="162.2" cy="298.3" r="0.45" fill="#858585"/><circle cx="152.0" cy="294.4" r="0.45" fill="#5b5b5b"/><circle cx="158.6" cy="298.2" r="0.45" fill="#6d6d6d"/><circle cx="160.5" cy="294.1" r="0.45" fill="#303030"/><circle cx="156.4" cy="307.0" r="0.45" fill="#939393"/><circle cx="157.3" cy="293.6" r="0.45" fill="#848484"/><circle cx="154.0" cy="290.1" r="0.45" fill="#717171"/><circle cx="154.3" cy="302.9" r="0.45" fill="#6d6d6d"/><circle cx="157.4" cy="308.8" r="0.45" fill="#606060"/><circle cx="159.9" cy="299.5" r="0.45" fill="#9f9f9f"/><circle cx="165.6" cy="289.5" r="0.45" fill="#5f5f5f"/><circle cx="161.6" cy="300.6" r="0.45" fill="#2a2a2a"/><circle cx="158.3" cy="304.7" r="0.45" fill="#4b4b4b"/><circle cx="156.7" cy="293.6" r="0.45" fill="#454545"/><circle cx="161.3" cy="299.0" r="0.45" fill="#6e6e6e"/><circle cx="158.9" cy="298.9" r="0.45" fill="#303030"/><circle cx="165.8" cy="297.5" r="0.45" fill="#7d7d7d"/><circle cx="161.2" cy="298.8" r="0.45" fill="#656565"/><circle cx="163.5" cy="305.1" r="0.45" fill="#979797"/><circle cx="158.1" cy="297.8" r="0.45" fill="#545454"/><circle cx="160.4" cy="291.4" r="0.45" fill="#2f2f2f"/><circle cx="160.2" cy="305.1" r="0.45" fill="#919191"/><circle cx="156.7" cy="293.6" r="0.45" fill="#a0a0a0"/><circle cx="158.2" cy="301.4" r="0.45" fill="#8f8f8f"/><circle cx="151.9" cy="301.0" r="0.45" fill="#848484"/><circle cx="166.6" cy="300.4" r="0.45" fill="#a0a0a0"/><circle cx="160.0" cy="299.6" r="0.45" fill="#313131"/><circle cx="158.9" cy="298.3" r="0.45" fill="#6f6f6f"/><circle cx="157.2" cy="303.7" r="0.45" fill="#292929"/><circle cx="160.1" cy="295.6" r="0.45" fill="#565656"/><circle cx="163.9" cy="297.5" r="0.45" fill="#8f8f8f"/><circle cx="159.3" cy="310.6" r="0.45" fill="#676767"/><circle cx="153.2" cy="303.4" r="0.45" fill="#919191"/><circle cx="155.4" cy="287.7" r="0.45" fill="#8a8a8a"/><circle cx="166.9" cy="305.7" r="0.45" fill="#5b5b5b"/><circle cx="161.2" cy="291.8" r="0.45" fill="#9b9b9b"/><circle cx="159.7" cy="296.3" r="0.45" fill="#717171"/><circle cx="161.2" cy="301.1" r="0.45" fill="#848484"/><circle cx="155.0" cy="303.4" r="0.45" fill="#8f8f8f"/><circle cx="164.6" cy="296.6" r="0.45" fill="#616161"/><circle cx="157.0" cy="300.9" r="0.45" fill="#9b9b9b"/><circle cx="155.9" cy="290.4" r="0.45" fill="#494949"/><circle cx="155.7" cy="305.5" r="0.45" fill="#434343"/><circle cx="161.0" cy="297.9" r="0.45" fill="#4e4e4e"/><circle cx="157.9" cy="293.6" r="0.45" fill="#353535"/><circle cx="161.2" cy="301.8" r="0.45" fill="#3f3f3f"/><circle cx="158.5" cy="297.3" r="0.45" fill="#686868"/><circle cx="160.7" cy="297.9" r="0.45" fill="#6c6c6c"/><circle cx="162.6" cy="288.4" r="0.45" fill="#2a2a2a"/><circle cx="161.6" cy="293.4" r="0.45" fill="#888888"/><circle cx="154.5" cy="292.8" r="0.45" fill="#515151"/><circle cx="149.7" cy="303.5" r="0.45" fill="#444444"/><circle cx="152.0" cy="297.0" r="0.45" fill="#999999"/><circle cx="160.4" cy="301.3" r="0.45" fill="#7e7e7e"/><circle cx="152.1" cy="305.6" r="0.45" fill="#989898"/><circle cx="160.5" cy="302.2" r="0.45" fill="#292929"/><circle cx="162.4" cy="303.8" r="0.45" fill="#585858"/><circle cx="160.1" cy="295.9" r="0.45" fill="#767676"/><circle cx="152.8" cy="288.6" r="0.45" fill="#959595"/><circle cx="158.1" cy="290.9" r="0.45" fill="#707070"/><circle cx="160.8" cy="295.6" r="0.45" fill="#868686"/><circle cx="157.4" cy="290.9" r="0.45" fill="#7d7d7d"/><circle cx="151.5" cy="299.3" r="0.45" fill="#686868"/><circle cx="159.7" cy="305.1" r="0.45" fill="#717171"/><circle cx="167.7" cy="300.6" r="0.45" fill="#6b6b6b"/><circle cx="156.0" cy="292.3" r="0.45" fill="#737373"/><circle cx="160.3" cy="297.6" r="0.45" fill="#515151"/><circle cx="161.6" cy="302.5" r="0.45" fill="#484848"/><circle cx="158.7" cy="291.8" r="0.45" fill="#868686"/><circle cx="154.0" cy="298.5" r="0.45" fill="#2e2e2e"/><circle cx="160.4" cy="294.7" r="0.45" fill="#9a9a9a"/><circle cx="156.1" cy="297.2" r="0.45" fill="#939393"/><circle cx="165.3" cy="292.1" r="0.45" fill="#3a3a3a"/><circle cx="162.4" cy="287.6" r="0.45" fill="#696969"/><circle cx="159.0" cy="301.7" r="0.45" fill="#3f3f3f"/><circle cx="163.3" cy="290.1" r="0.45" fill="#484848"/><circle cx="155.3" cy="296.4" r="0.45" fill="#424242"/><circle cx="151.2" cy="294.3" r="0.45" fill="#414141"/><circle cx="148.8" cy="298.1" r="0.45" fill="#464646"/><circle cx="163.6" cy="300.4" r="0.45" fill="#8c8c8c"/><circle cx="159.4" cy="284.7" r="0.45" fill="#313131"/><circle cx="161.4" cy="285.8" r="0.45" fill="#8a8a8a"/><circle cx="166.3" cy="285.3" r="0.45" fill="#303030"/><circle cx="159.7" cy="293.7" r="0.45" fill="#565656"/><circle cx="160.6" cy="301.9" r="0.45" fill="#9e9e9e"/><circle cx="154.5" cy="306.9" r="0.45" fill="#929292"/><circle cx="158.0" cy="303.0" r="0.45" fill="#767676"/><circle cx="153.0" cy="304.5" r="0.45" fill="#767676"/><circle cx="154.5" cy="298.5" r="0.45" fill="#333333"/><circle cx="161.7" cy="296.7" r="0.45" fill="#787878"/><circle cx="154.9" cy="310.8" r="0.45" fill="#414141"/><circle cx="147.0" cy="289.9" r="0.45" fill="#585858"/><circle cx="162.6" cy="297.5" r="0.45" fill="#505050"/><circle cx="164.4" cy="285.0" r="0.45" fill="#7c7c7c"/><circle cx="154.1" cy="291.4" r="0.45" fill="#3f3f3f"/><circle cx="159.3" cy="293.3" r="0.45" fill="#727272"/><circle cx="156.9" cy="297.7" r="0.45" fill="#363636"/><circle cx="158.8" cy="302.5" r="0.45" fill="#777777"/><circle cx="157.3" cy="300.1" r="0.45" fill="#303030"/><circle cx="156.7" cy="287.9" r="0.45" fill="#565656"/><circle cx="163.7" cy="289.5" r="0.45" fill="#414141"/><circle cx="162.4" cy="303.7" r="0.45" fill="#5e5e5e"/><circle cx="155.1" cy="302.9" r="0.45" fill="#4b4b4b"/><circle cx="154.4" cy="298.9" r="0.45" fill="#a0a0a0"/><circle cx="163.0" cy="301.1" r="0.45" fill="#5d5d5d"/><circle cx="159.5" cy="304.9" r="0.45" fill="#4c4c4c"/><circle cx="164.9" cy="305.6" r="0.45" fill="#959595"/><circle cx="164.1" cy="301.1" r="0.45" fill="#444444"/><circle cx="162.6" cy="294.6" r="0.45" fill="#878787"/><circle cx="156.6" cy="299.2" r="0.45" fill="#797979"/><circle cx="162.8" cy="299.5" r="0.45" fill="#4c4c4c"/><circle cx="153.9" cy="292.6" r="0.45" fill="#4a4a4a"/><circle cx="157.4" cy="305.9" r="0.45" fill="#7e7e7e"/><circle cx="158.5" cy="296.3" r="0.45" fill="#575757"/><circle cx="164.7" cy="306.4" r="0.45" fill="#484848"/><circle cx="156.5" cy="300.1" r="0.45" fill="#353535"/><circle cx="162.3" cy="286.4" r="0.45" fill="#737373"/><circle cx="163.6" cy="302.4" r="0.45" fill="#626262"/><circle cx="160.4" cy="295.4" r="0.45" fill="#565656"/><circle cx="160.0" cy="297.2" r="0.45" fill="#737373"/><circle cx="157.2" cy="292.2" r="0.45" fill="#9a9a9a"/><circle cx="162.3" cy="285.8" r="0.45" fill="#7d7d7d"/><circle cx="156.0" cy="292.0" r="0.45" fill="#565656"/><circle cx="161.3" cy="303.3" r="0.45" fill="#656565"/><circle cx="156.4" cy="289.8" r="0.45" fill="#444444"/><circle cx="171.4" cy="294.2" r="0.45" fill="#5a5a5a"/><circle cx="156.4" cy="298.8" r="0.45" fill="#6d6d6d"/><circle cx="154.8" cy="277.1" r="0.45" fill="#303030"/><circle cx="164.8" cy="297.0" r="0.45" fill="#8d8d8d"/><circle cx="157.4" cy="293.5" r="0.45" fill="#727272"/><circle cx="160.0" cy="302.6" r="0.45" fill="#3a3a3a"/><circle cx="157.2" cy="296.7" r="0.45" fill="#8d8d8d"/><circle cx="161.1" cy="298.8" r="0.45" fill="#7b7b7b"/><circle cx="156.7" cy="287.1" r="0.45" fill="#9b9b9b"/><circle cx="158.8" cy="308.0" r="0.45" fill="#858585"/><circle cx="150.8" cy="299.0" r="0.45" fill="#5f5f5f"/><circle cx="158.3" cy="297.2" r="0.45" fill="#969696"/><circle cx="154.0" cy="305.4" r="0.45" fill="#989898"/><circle cx="162.7" cy="297.8" r="0.45" fill="#6c6c6c"/><circle cx="149.0" cy="290.9" r="0.45" fill="#8b8b8b"/><circle cx="159.8" cy="292.1" r="0.45" fill="#686868"/><circle cx="157.6" cy="296.1" r="0.45" fill="#464646"/><circle cx="160.2" cy="298.9" r="0.45" fill="#696969"/><circle cx="157.7" cy="302.2" r="0.45" fill="#474747"/><circle cx="159.1" cy="303.2" r="0.45" fill="#2e2e2e"/><circle cx="164.3" cy="296.5" r="0.45" fill="#3d3d3d"/><circle cx="154.9" cy="294.6" r="0.45" fill="#949494"/><circle cx="176.2" cy="307.6" r="0.4" fill="#b8b8b8"/><circle cx="176.5" cy="314.8" r="0.4" fill="#bbbbbb"/><circle cx="170.5" cy="312.7" r="0.4" fill="#878787"/><circle cx="165.1" cy="310.2" r="0.4" fill="#8b8b8b"/><circle cx="167.0" cy="309.0" r="0.4" fill="#a8a8a8"/><circle cx="170.8" cy="312.3" r="0.4" fill="#7b7b7b"/><circle cx="159.2" cy="311.4" r="0.4" fill="#bdbdbd"/><circle cx="157.5" cy="306.7" r="0.4" fill="#7d7d7d"/><circle cx="161.5" cy="311.2" r="0.4" fill="#939393"/><circle cx="165.8" cy="311.1" r="0.4" fill="#adadad"/><circle cx="162.1" cy="312.2" r="0.4" fill="#898989"/><circle cx="158.5" cy="308.9" r="0.4" fill="#848484"/><circle cx="161.3" cy="311.1" r="0.4" fill="#999999"/><circle cx="166.6" cy="310.9" r="0.4" fill="#b5b5b5"/><circle cx="158.4" cy="312.1" r="0.4" fill="#a2a2a2"/><circle cx="163.9" cy="310.2" r="0.4" fill="#bbbbbb"/><circle cx="173.9" cy="311.0" r="0.4" fill="#bebebe"/><circle cx="160.3" cy="313.6" r="0.4" fill="#848484"/><circle cx="165.6" cy="309.5" r="0.4" fill="#a6a6a6"/><circle cx="161.0" cy="310.2" r="0.4" fill="#bbbbbb"/><circle cx="165.1" cy="310.0" r="0.4" fill="#acacac"/><circle cx="163.3" cy="309.4" r="0.4" fill="#a5a5a5"/><circle cx="172.5" cy="309.5" r="0.4" fill="#a7a7a7"/><circle cx="168.6" cy="308.7" r="0.4" fill="#7f7f7f"/><circle cx="162.7" cy="312.4" r="0.4" fill="#bababa"/><circle cx="166.3" cy="308.0" r="0.4" fill="#838383"/><circle cx="168.1" cy="312.9" r="0.4" fill="#aeaeae"/><circle cx="161.9" cy="308.3" r="0.4" fill="#838383"/><circle cx="163.6" cy="313.2" r="0.4" fill="#828282"/><circle cx="162.0" cy="311.0" r="0.4" fill="#989898"/><circle cx="163.1" cy="311.7" r="0.4" fill="#8b8b8b"/><circle cx="168.4" cy="306.9" r="0.4" fill="#7f7f7f"/><circle cx="174.1" cy="310.0" r="0.4" fill="#aaaaaa"/><circle cx="159.7" cy="308.0" r="0.4" fill="#a3a3a3"/><circle cx="165.0" cy="309.6" r="0.4" fill="#939393"/><circle cx="165.4" cy="309.9" r="0.4" fill="#b5b5b5"/><circle cx="156.8" cy="311.6" r="0.4" fill="#818181"/><circle cx="167.4" cy="310.8" r="0.4" fill="#898989"/><circle cx="160.5" cy="311.7" r="0.4" fill="#afafaf"/><circle cx="168.4" cy="307.7" r="0.4" fill="#818181"/><circle cx="175.0" cy="305.3" r="0.4" fill="#a5a5a5"/><circle cx="161.6" cy="307.6" r="0.4" fill="#868686"/><circle cx="163.9" cy="307.9" r="0.4" fill="#868686"/><circle cx="170.3" cy="309.3" r="0.4" fill="#adadad"/><circle cx="164.3" cy="311.1" r="0.4" fill="#878787"/><circle cx="169.1" cy="311.5" r="0.4" fill="#acacac"/><circle cx="173.3" cy="310.5" r="0.4" fill="#a8a8a8"/><circle cx="169.4" cy="313.3" r="0.4" fill="#b7b7b7"/><circle cx="155.3" cy="310.1" r="0.4" fill="#a9a9a9"/><circle cx="158.0" cy="309.8" r="0.4" fill="#bebebe"/><circle cx="161.8" cy="301.2" r="0.4" fill="#a4a4a4"/><circle cx="161.5" cy="303.5" r="0.4" fill="#6e6e6e"/><circle cx="158.6" cy="300.6" r="0.4" fill="#9c9c9c"/><circle cx="159.3" cy="300.0" r="0.4" fill="#a5a5a5"/><circle cx="165.1" cy="300.6" r="0.4" fill="#a4a4a4"/><circle cx="167.6" cy="306.7" r="0.4" fill="#8c8c8c"/><circle cx="157.6" cy="307.1" r="0.4" fill="#777777"/><circle cx="158.2" cy="300.9" r="0.4" fill="#8e8e8e"/><circle cx="157.9" cy="302.0" r="0.4" fill="#626262"/><circle cx="163.5" cy="300.8" r="0.4" fill="#797979"/><circle cx="160.7" cy="299.9" r="0.4" fill="#a9a9a9"/><circle cx="165.5" cy="303.8" r="0.4" fill="#8e8e8e"/><circle cx="167.6" cy="301.2" r="0.4" fill="#989898"/><circle cx="164.8" cy="304.3" r="0.4" fill="#a9a9a9"/><circle cx="166.1" cy="304.5" r="0.4" fill="#6d6d6d"/><circle cx="171.1" cy="304.0" r="0.4" fill="#a2a2a2"/><circle cx="165.7" cy="305.9" r="0.4" fill="#989898"/><circle cx="170.5" cy="309.0" r="0.4" fill="#878787"/><circle cx="162.9" cy="301.7" r="0.4" fill="#6d6d6d"/><circle cx="162.8" cy="305.0" r="0.4" fill="#9e9e9e"/><circle cx="161.6" cy="300.3" r="0.4" fill="#6e6e6e"/><circle cx="162.7" cy="299.1" r="0.4" fill="#898989"/><circle cx="159.9" cy="300.4" r="0.4" fill="#7f7f7f"/><circle cx="153.2" cy="299.4" r="0.4" fill="#7b7b7b"/><circle cx="166.3" cy="304.8" r="0.4" fill="#707070"/><circle cx="157.5" cy="302.5" r="0.4" fill="#7f7f7f"/><circle cx="160.3" cy="306.7" r="0.4" fill="#7b7b7b"/><circle cx="157.2" cy="303.2" r="0.4" fill="#7e7e7e"/><circle cx="165.9" cy="296.1" r="0.4" fill="#6d6d6d"/><circle cx="164.5" cy="301.7" r="0.4" fill="#9f9f9f"/><circle cx="167.0" cy="299.7" r="0.4" fill="#9f9f9f"/><circle cx="163.1" cy="301.3" r="0.4" fill="#a5a5a5"/><circle cx="162.7" cy="300.7" r="0.4" fill="#606060"/><circle cx="152.6" cy="305.3" r="0.4" fill="#9f9f9f"/><circle cx="162.7" cy="306.3" r="0.4" fill="#898989"/><circle cx="159.6" cy="304.7" r="0.4" fill="#9a9a9a"/><circle cx="160.7" cy="307.8" r="0.4" fill="#777777"/><circle cx="168.7" cy="304.7" r="0.4" fill="#a3a3a3"/><circle cx="170.2" cy="301.4" r="0.4" fill="#636363"/><circle cx="161.9" cy="303.2" r="0.4" fill="#a2a2a2"/></g><g filter="url(#bl07)"><ellipse cx="169.3" cy="294.2" rx="7.2" ry="3.6" fill="#000" transform="rotate(-18 169.3 294.2)"/></g></g>
<g clip-path="url(#c2)"><g filter="url(#bl07)"><ellipse cx="103" cy="350" rx="7.5" ry="2.6" fill="#555"/><ellipse cx="90.8" cy="358.5" rx="5" ry="3.2" fill="#b0b0b0"/></g><g><circle cx="94.7" cy="350.2" r="0.5" fill="#2f2f2f"/><circle cx="87.8" cy="357.6" r="0.5" fill="#070707"/><circle cx="98.5" cy="349.1" r="0.5" fill="#121212"/><circle cx="97.9" cy="351.7" r="0.5" fill="#575757"/><circle cx="104.9" cy="349.2" r="0.5" fill="#424242"/><circle cx="86.3" cy="349.8" r="0.5" fill="#565656"/><circle cx="93.9" cy="354.8" r="0.5" fill="#2d2d2d"/><circle cx="82.8" cy="345.5" r="0.5" fill="#5a5a5a"/><circle cx="93.7" cy="352.0" r="0.5" fill="#181818"/><circle cx="96.6" cy="352.8" r="0.5" fill="#474747"/><circle cx="101.4" cy="348.0" r="0.5" fill="#0b0b0b"/><circle cx="94.3" cy="353.1" r="0.5" fill="#2a2a2a"/><circle cx="92.3" cy="353.6" r="0.5" fill="#131313"/><circle cx="103.6" cy="349.5" r="0.5" fill="#131313"/><circle cx="98.9" cy="344.3" r="0.5" fill="#020202"/><circle cx="84.6" cy="346.7" r="0.5" fill="#575757"/><circle cx="81.9" cy="347.5" r="0.5" fill="#282828"/><circle cx="93.4" cy="350.2" r="0.5" fill="#424242"/><circle cx="97.6" cy="357.4" r="0.5" fill="#0d0d0d"/><circle cx="99.2" cy="355.5" r="0.5" fill="#030303"/><circle cx="89.1" cy="351.9" r="0.5" fill="#171717"/><circle cx="89.2" cy="346.8" r="0.5" fill="#4a4a4a"/><circle cx="92.3" cy="345.5" r="0.5" fill="#0a0a0a"/><circle cx="93.4" cy="350.8" r="0.5" fill="#1b1b1b"/><circle cx="100.9" cy="349.8" r="0.5" fill="#343434"/><circle cx="89.4" cy="352.8" r="0.5" fill="#323232"/><circle cx="100.0" cy="351.4" r="0.5" fill="#212121"/><circle cx="96.1" cy="351.8" r="0.5" fill="#5c5c5c"/><circle cx="87.7" cy="355.4" r="0.5" fill="#3a3a3a"/><circle cx="84.8" cy="344.0" r="0.5" fill="#353535"/><circle cx="92.8" cy="352.6" r="0.5" fill="#202020"/><circle cx="88.1" cy="351.6" r="0.5" fill="#2a2a2a"/><circle cx="94.5" cy="355.8" r="0.5" fill="#4e4e4e"/><circle cx="91.1" cy="355.2" r="0.5" fill="#202020"/><circle cx="90.5" cy="350.5" r="0.5" fill="#272727"/><circle cx="92.0" cy="353.8" r="0.5" fill="#2a2a2a"/><circle cx="91.3" cy="348.4" r="0.5" fill="#040404"/><circle cx="93.1" cy="346.5" r="0.5" fill="#0a0a0a"/><circle cx="89.1" cy="346.9" r="0.5" fill="#383838"/><circle cx="92.5" cy="354.4" r="0.5" fill="#111111"/><circle cx="88.3" cy="353.3" r="0.5" fill="#090909"/><circle cx="96.4" cy="350.6" r="0.5" fill="#111111"/><circle cx="85.0" cy="353.4" r="0.5" fill="#1d1d1d"/><circle cx="86.9" cy="356.2" r="0.5" fill="#303030"/><circle cx="96.9" cy="348.2" r="0.5" fill="#5e5e5e"/><circle cx="103.8" cy="354.8" r="0.5" fill="#010101"/><circle cx="92.7" cy="351.1" r="0.5" fill="#080808"/><circle cx="88.9" cy="351.8" r="0.5" fill="#080808"/><circle cx="94.3" cy="357.9" r="0.5" fill="#1c1c1c"/><circle cx="95.7" cy="349.4" r="0.5" fill="#111111"/><circle cx="96.5" cy="355.2" r="0.5" fill="#050505"/><circle cx="92.5" cy="352.6" r="0.5" fill="#565656"/><circle cx="92.3" cy="357.8" r="0.5" fill="#555555"/><circle cx="86.9" cy="351.8" r="0.5" fill="#0f0f0f"/><circle cx="94.0" cy="349.9" r="0.5" fill="#090909"/><circle cx="99.5" cy="350.2" r="0.5" fill="#565656"/><circle cx="95.6" cy="351.7" r="0.5" fill="#171717"/><circle cx="88.0" cy="349.4" r="0.5" fill="#424242"/><circle cx="85.2" cy="349.6" r="0.5" fill="#616161"/><circle cx="92.8" cy="348.2" r="0.5" fill="#0b0b0b"/><circle cx="94.6" cy="352.1" r="0.5" fill="#090909"/><circle cx="103.5" cy="346.2" r="0.5" fill="#565656"/><circle cx="88.5" cy="350.7" r="0.5" fill="#2a2a2a"/><circle cx="90.0" cy="349.5" r="0.5" fill="#3d3d3d"/><circle cx="95.1" cy="341.5" r="0.5" fill="#3a3a3a"/><circle cx="81.3" cy="360.8" r="0.5" fill="#3e3e3e"/><circle cx="88.3" cy="351.3" r="0.5" fill="#3c3c3c"/><circle cx="92.6" cy="350.7" r="0.5" fill="#616161"/><circle cx="86.1" cy="348.5" r="0.5" fill="#242424"/><circle cx="93.1" cy="352.7" r="0.5" fill="#5e5e5e"/><circle cx="97.1" cy="342.6" r="0.5" fill="#030303"/><circle cx="93.2" cy="357.1" r="0.5" fill="#3f3f3f"/><circle cx="90.1" cy="350.0" r="0.5" fill="#030303"/><circle cx="91.9" cy="351.4" r="0.5" fill="#262626"/><circle cx="96.0" cy="350.2" r="0.5" fill="#4f4f4f"/><circle cx="84.4" cy="348.7" r="0.5" fill="#202020"/><circle cx="88.4" cy="348.6" r="0.5" fill="#2d2d2d"/><circle cx="95.6" cy="354.5" r="0.5" fill="#4e4e4e"/><circle cx="86.1" cy="353.0" r="0.5" fill="#3a3a3a"/><circle cx="91.0" cy="359.6" r="0.5" fill="#3e3e3e"/><circle cx="92.7" cy="359.2" r="0.5" fill="#545454"/><circle cx="94.6" cy="354.5" r="0.5" fill="#242424"/><circle cx="92.6" cy="342.4" r="0.5" fill="#282828"/><circle cx="92.1" cy="355.5" r="0.5" fill="#141414"/><circle cx="90.1" cy="347.7" r="0.5" fill="#515151"/><circle cx="97.8" cy="353.9" r="0.5" fill="#2c2c2c"/><circle cx="89.1" cy="351.0" r="0.5" fill="#5f5f5f"/><circle cx="96.8" cy="348.8" r="0.5" fill="#303030"/><circle cx="88.6" cy="345.9" r="0.5" fill="#333333"/><circle cx="90.7" cy="355.5" r="0.5" fill="#505050"/><circle cx="90.0" cy="350.3" r="0.5" fill="#282828"/><circle cx="85.8" cy="350.9" r="0.5" fill="#525252"/><circle cx="92.2" cy="351.5" r="0.5" fill="#444444"/><circle cx="89.5" cy="351.3" r="0.5" fill="#060606"/><circle cx="92.4" cy="357.5" r="0.5" fill="#050505"/><circle cx="91.2" cy="358.6" r="0.5" fill="#404040"/><circle cx="95.2" cy="352.8" r="0.5" fill="#070707"/><circle cx="97.0" cy="349.4" r="0.5" fill="#3d3d3d"/><circle cx="94.0" cy="353.4" r="0.5" fill="#555555"/><circle cx="86.9" cy="350.7" r="0.5" fill="#191919"/><circle cx="86.9" cy="346.4" r="0.5" fill="#393939"/><circle cx="96.1" cy="341.4" r="0.5" fill="#101010"/><circle cx="88.0" cy="344.9" r="0.5" fill="#5b5b5b"/><circle cx="90.9" cy="353.8" r="0.5" fill="#161616"/><circle cx="95.7" cy="353.6" r="0.5" fill="#5b5b5b"/><circle cx="91.9" cy="358.9" r="0.5" fill="#020202"/><circle cx="98.5" cy="349.4" r="0.5" fill="#3c3c3c"/><circle cx="93.3" cy="346.0" r="0.5" fill="#333333"/><circle cx="98.1" cy="348.7" r="0.5" fill="#080808"/><circle cx="94.4" cy="350.5" r="0.5" fill="#212121"/><circle cx="101.6" cy="350.0" r="0.5" fill="#272727"/><circle cx="91.3" cy="355.7" r="0.5" fill="#636363"/><circle cx="92.2" cy="340.4" r="0.5" fill="#4f4f4f"/><circle cx="86.6" cy="346.0" r="0.5" fill="#555555"/><circle cx="100.9" cy="353.4" r="0.5" fill="#626262"/><circle cx="84.9" cy="354.5" r="0.5" fill="#000000"/><circle cx="80.6" cy="347.2" r="0.5" fill="#515151"/><circle cx="94.7" cy="349.6" r="0.5" fill="#5b5b5b"/><circle cx="90.8" cy="351.4" r="0.5" fill="#141414"/><circle cx="77.6" cy="350.8" r="0.5" fill="#1d1d1d"/><circle cx="86.6" cy="345.7" r="0.5" fill="#585858"/><circle cx="94.5" cy="353.9" r="0.5" fill="#3b3b3b"/><circle cx="91.0" cy="353.1" r="0.5" fill="#525252"/><circle cx="90.6" cy="357.0" r="0.5" fill="#0d0d0d"/><circle cx="86.0" cy="358.0" r="0.5" fill="#030303"/><circle cx="88.4" cy="359.4" r="0.5" fill="#4f4f4f"/><circle cx="89.7" cy="354.6" r="0.5" fill="#070707"/><circle cx="89.5" cy="353.3" r="0.5" fill="#424242"/><circle cx="93.3" cy="350.7" r="0.5" fill="#0c0c0c"/><circle cx="95.5" cy="347.4" r="0.5" fill="#3c3c3c"/><circle cx="91.8" cy="346.4" r="0.5" fill="#242424"/><circle cx="93.6" cy="355.3" r="0.5" fill="#1e1e1e"/><circle cx="86.9" cy="352.3" r="0.5" fill="#2b2b2b"/><circle cx="95.9" cy="351.9" r="0.5" fill="#434343"/><circle cx="97.8" cy="345.3" r="0.5" fill="#444444"/><circle cx="87.1" cy="352.7" r="0.5" fill="#1e1e1e"/><circle cx="94.2" cy="343.0" r="0.5" fill="#0a0a0a"/><circle cx="95.3" cy="353.5" r="0.5" fill="#575757"/><circle cx="85.4" cy="353.4" r="0.5" fill="#525252"/><circle cx="96.7" cy="348.9" r="0.5" fill="#202020"/><circle cx="87.0" cy="348.9" r="0.5" fill="#010101"/><circle cx="88.3" cy="350.4" r="0.5" fill="#626262"/><circle cx="98.4" cy="350.4" r="0.5" fill="#171717"/><circle cx="87.7" cy="349.9" r="0.5" fill="#5c5c5c"/><circle cx="81.4" cy="346.5" r="0.5" fill="#222222"/><circle cx="92.3" cy="345.6" r="0.5" fill="#5a5a5a"/><circle cx="93.2" cy="351.3" r="0.5" fill="#0d0d0d"/><circle cx="94.6" cy="350.1" r="0.5" fill="#202020"/><circle cx="92.8" cy="350.0" r="0.5" fill="#090909"/><circle cx="97.1" cy="350.9" r="0.5" fill="#4e4e4e"/><circle cx="89.1" cy="351.5" r="0.5" fill="#363636"/><circle cx="82.7" cy="350.9" r="0.5" fill="#1f1f1f"/><circle cx="85.6" cy="353.8" r="0.5" fill="#575757"/><circle cx="94.9" cy="348.0" r="0.5" fill="#0b0b0b"/><circle cx="90.9" cy="349.0" r="0.5" fill="#070707"/><circle cx="86.9" cy="349.2" r="0.5" fill="#313131"/><circle cx="96.0" cy="352.4" r="0.5" fill="#3b3b3b"/><circle cx="89.0" cy="349.1" r="0.5" fill="#1f1f1f"/><circle cx="95.0" cy="347.5" r="0.5" fill="#4b4b4b"/><circle cx="99.5" cy="344.9" r="0.5" fill="#515151"/><circle cx="106.1" cy="351.4" r="0.5" fill="#3a3a3a"/><circle cx="107.1" cy="347.5" r="0.5" fill="#676767"/><circle cx="98.7" cy="351.3" r="0.5" fill="#363636"/><circle cx="102.6" cy="353.7" r="0.5" fill="#787878"/><circle cx="102.6" cy="351.6" r="0.5" fill="#727272"/><circle cx="97.9" cy="351.0" r="0.5" fill="#464646"/><circle cx="103.3" cy="350.6" r="0.5" fill="#444444"/><circle cx="101.4" cy="349.6" r="0.5" fill="#7c7c7c"/><circle cx="92.9" cy="350.9" r="0.5" fill="#585858"/><circle cx="98.9" cy="347.7" r="0.5" fill="#5e5e5e"/><circle cx="111.7" cy="349.7" r="0.5" fill="#515151"/><circle cx="104.5" cy="349.7" r="0.5" fill="#3b3b3b"/><circle cx="100.7" cy="353.3" r="0.5" fill="#6a6a6a"/><circle cx="98.9" cy="347.7" r="0.5" fill="#555555"/><circle cx="104.0" cy="351.8" r="0.5" fill="#6a6a6a"/><circle cx="103.8" cy="347.7" r="0.5" fill="#7b7b7b"/><circle cx="98.7" cy="352.8" r="0.5" fill="#202020"/><circle cx="105.5" cy="348.6" r="0.5" fill="#545454"/><circle cx="102.6" cy="353.0" r="0.5" fill="#3a3a3a"/><circle cx="105.8" cy="348.9" r="0.5" fill="#373737"/><circle cx="102.9" cy="348.1" r="0.5" fill="#5d5d5d"/><circle cx="95.0" cy="348.4" r="0.5" fill="#717171"/><circle cx="97.8" cy="351.9" r="0.5" fill="#797979"/><circle cx="101.9" cy="348.4" r="0.5" fill="#4c4c4c"/><circle cx="99.7" cy="349.5" r="0.5" fill="#787878"/><circle cx="100.9" cy="348.3" r="0.5" fill="#323232"/><circle cx="105.7" cy="350.1" r="0.5" fill="#818181"/><circle cx="95.1" cy="348.4" r="0.5" fill="#5f5f5f"/><circle cx="106.8" cy="349.7" r="0.5" fill="#666666"/><circle cx="96.2" cy="354.3" r="0.5" fill="#474747"/><circle cx="106.5" cy="352.6" r="0.5" fill="#5d5d5d"/><circle cx="100.9" cy="348.8" r="0.5" fill="#535353"/><circle cx="102.0" cy="349.4" r="0.5" fill="#242424"/><circle cx="97.0" cy="350.8" r="0.5" fill="#565656"/><circle cx="91.8" cy="348.1" r="0.5" fill="#4b4b4b"/><circle cx="101.5" cy="350.5" r="0.5" fill="#1f1f1f"/><circle cx="100.6" cy="353.1" r="0.5" fill="#767676"/><circle cx="100.7" cy="351.3" r="0.5" fill="#787878"/><circle cx="102.3" cy="352.1" r="0.5" fill="#626262"/><circle cx="96.8" cy="350.0" r="0.5" fill="#505050"/><circle cx="101.4" cy="349.3" r="0.5" fill="#454545"/><circle cx="96.4" cy="347.5" r="0.5" fill="#6c6c6c"/><circle cx="103.0" cy="351.5" r="0.5" fill="#2d2d2d"/><circle cx="109.0" cy="348.7" r="0.5" fill="#212121"/><circle cx="102.7" cy="348.6" r="0.5" fill="#5c5c5c"/><circle cx="109.2" cy="351.1" r="0.5" fill="#737373"/><circle cx="107.2" cy="346.6" r="0.5" fill="#393939"/><circle cx="99.6" cy="348.9" r="0.5" fill="#474747"/><circle cx="97.7" cy="353.7" r="0.5" fill="#393939"/><circle cx="107.4" cy="347.6" r="0.5" fill="#212121"/><circle cx="94.5" cy="351.5" r="0.5" fill="#666666"/><circle cx="101.8" cy="352.5" r="0.5" fill="#4b4b4b"/><circle cx="103.6" cy="351.6" r="0.5" fill="#6d6d6d"/><circle cx="99.9" cy="352.8" r="0.5" fill="#494949"/><circle cx="105.5" cy="346.1" r="0.5" fill="#343434"/><circle cx="108.2" cy="346.3" r="0.5" fill="#747474"/><circle cx="103.5" cy="347.9" r="0.5" fill="#6b6b6b"/><circle cx="102.1" cy="348.9" r="0.5" fill="#464646"/><circle cx="105.5" cy="349.2" r="0.5" fill="#4c4c4c"/><circle cx="108.4" cy="351.0" r="0.5" fill="#737373"/><circle cx="110.4" cy="351.1" r="0.5" fill="#262626"/><circle cx="103.8" cy="347.2" r="0.5" fill="#686868"/><circle cx="107.4" cy="350.5" r="0.5" fill="#696969"/><circle cx="94.3" cy="354.8" r="0.5" fill="#6a6a6a"/><circle cx="98.2" cy="349.8" r="0.5" fill="#2b2b2b"/><circle cx="93.5" cy="352.4" r="0.5" fill="#6c6c6c"/><circle cx="104.8" cy="351.6" r="0.5" fill="#737373"/><circle cx="107.3" cy="352.7" r="0.5" fill="#242424"/><circle cx="99.0" cy="350.5" r="0.5" fill="#656565"/><circle cx="106.8" cy="350.4" r="0.5" fill="#1e1e1e"/><circle cx="103.0" cy="351.9" r="0.5" fill="#3f3f3f"/><circle cx="107.7" cy="350.4" r="0.5" fill="#535353"/><circle cx="99.7" cy="349.3" r="0.5" fill="#2c2c2c"/><circle cx="104.2" cy="351.0" r="0.5" fill="#747474"/><circle cx="98.7" cy="350.1" r="0.5" fill="#7e7e7e"/><circle cx="109.2" cy="347.6" r="0.5" fill="#565656"/><circle cx="100.9" cy="348.0" r="0.5" fill="#525252"/><circle cx="104.9" cy="348.5" r="0.5" fill="#3f3f3f"/><circle cx="97.0" cy="350.7" r="0.5" fill="#626262"/><circle cx="112.0" cy="350.1" r="0.5" fill="#3a3a3a"/><circle cx="102.1" cy="351.8" r="0.5" fill="#505050"/><circle cx="111.7" cy="350.9" r="0.5" fill="#6d6d6d"/><circle cx="97.2" cy="350.9" r="0.5" fill="#4d4d4d"/><circle cx="109.4" cy="347.4" r="0.5" fill="#757575"/><circle cx="98.3" cy="350.6" r="0.5" fill="#585858"/><circle cx="108.0" cy="351.5" r="0.5" fill="#3b3b3b"/><circle cx="114.3" cy="346.0" r="0.5" fill="#363636"/><circle cx="106.4" cy="350.9" r="0.5" fill="#484848"/><circle cx="97.2" cy="349.6" r="0.5" fill="#454545"/><circle cx="107.0" cy="350.6" r="0.5" fill="#4b4b4b"/><circle cx="105.0" cy="350.2" r="0.5" fill="#2c2c2c"/><circle cx="105.8" cy="350.3" r="0.5" fill="#4f4f4f"/><circle cx="101.2" cy="346.9" r="0.5" fill="#575757"/><circle cx="92.1" cy="348.4" r="0.5" fill="#555555"/><circle cx="97.7" cy="348.8" r="0.5" fill="#252525"/><circle cx="100.3" cy="349.6" r="0.5" fill="#595959"/><circle cx="102.9" cy="348.7" r="0.5" fill="#5d5d5d"/><circle cx="104.1" cy="352.3" r="0.5" fill="#636363"/><circle cx="108.8" cy="344.6" r="0.5" fill="#6e6e6e"/><circle cx="102.4" cy="350.0" r="0.5" fill="#7a7a7a"/><circle cx="101.1" cy="349.0" r="0.5" fill="#272727"/><circle cx="103.2" cy="351.9" r="0.5" fill="#343434"/><circle cx="109.2" cy="349.5" r="0.5" fill="#2a2a2a"/><circle cx="106.2" cy="350.0" r="0.5" fill="#363636"/><circle cx="106.2" cy="347.2" r="0.5" fill="#7f7f7f"/><circle cx="105.3" cy="351.8" r="0.5" fill="#7a7a7a"/><circle cx="103.8" cy="349.1" r="0.5" fill="#373737"/><circle cx="97.5" cy="347.7" r="0.5" fill="#5a5a5a"/><circle cx="94.2" cy="345.6" r="0.5" fill="#3f3f3f"/><circle cx="109.7" cy="348.3" r="0.5" fill="#464646"/><circle cx="87.8" cy="355.8" r="0.45" fill="#939393"/><circle cx="95.3" cy="359.4" r="0.45" fill="#6d6d6d"/><circle cx="94.7" cy="355.9" r="0.45" fill="#6d6d6d"/><circle cx="90.5" cy="356.9" r="0.45" fill="#7b7b7b"/><circle cx="90.5" cy="357.9" r="0.45" fill="#878787"/><circle cx="89.6" cy="364.2" r="0.45" fill="#929292"/><circle cx="93.3" cy="359.5" r="0.45" fill="#949494"/><circle cx="91.2" cy="360.6" r="0.45" fill="#919191"/><circle cx="88.0" cy="351.6" r="0.45" fill="#919191"/><circle cx="87.9" cy="355.3" r="0.45" fill="#979797"/><circle cx="90.8" cy="358.8" r="0.45" fill="#707070"/><circle cx="87.6" cy="358.6" r="0.45" fill="#7f7f7f"/><circle cx="91.0" cy="359.8" r="0.45" fill="#6a6a6a"/><circle cx="94.4" cy="358.2" r="0.45" fill="#666666"/><circle cx="84.6" cy="362.5" r="0.45" fill="#8e8e8e"/><circle cx="92.9" cy="357.7" r="0.45" fill="#7c7c7c"/><circle cx="96.1" cy="358.8" r="0.45" fill="#8e8e8e"/><circle cx="88.6" cy="357.7" r="0.45" fill="#545454"/><circle cx="90.0" cy="358.6" r="0.45" fill="#818181"/><circle cx="91.6" cy="358.0" r="0.45" fill="#545454"/><circle cx="89.1" cy="359.7" r="0.45" fill="#737373"/><circle cx="86.8" cy="355.6" r="0.45" fill="#9d9d9d"/><circle cx="86.3" cy="362.5" r="0.45" fill="#686868"/><circle cx="91.9" cy="357.2" r="0.45" fill="#505050"/><circle cx="85.4" cy="354.8" r="0.45" fill="#5a5a5a"/><circle cx="93.5" cy="356.7" r="0.45" fill="#474747"/><circle cx="90.6" cy="357.1" r="0.45" fill="#676767"/><circle cx="84.7" cy="355.0" r="0.45" fill="#404040"/><circle cx="88.9" cy="357.5" r="0.45" fill="#535353"/><circle cx="91.6" cy="359.7" r="0.45" fill="#555555"/><circle cx="94.8" cy="359.9" r="0.45" fill="#454545"/><circle cx="93.1" cy="361.3" r="0.45" fill="#6c6c6c"/><circle cx="88.1" cy="359.9" r="0.45" fill="#9b9b9b"/><circle cx="87.5" cy="358.4" r="0.45" fill="#787878"/><circle cx="87.3" cy="365.7" r="0.45" fill="#3f3f3f"/><circle cx="92.1" cy="360.7" r="0.45" fill="#3d3d3d"/><circle cx="85.5" cy="360.6" r="0.45" fill="#6e6e6e"/><circle cx="90.3" cy="360.6" r="0.45" fill="#919191"/><circle cx="93.3" cy="360.4" r="0.45" fill="#969696"/><circle cx="96.8" cy="354.5" r="0.45" fill="#494949"/><circle cx="91.8" cy="358.1" r="0.45" fill="#606060"/><circle cx="90.2" cy="360.4" r="0.45" fill="#a0a0a0"/><circle cx="95.6" cy="361.0" r="0.45" fill="#8e8e8e"/><circle cx="92.4" cy="360.9" r="0.45" fill="#676767"/><circle cx="91.2" cy="357.2" r="0.45" fill="#4b4b4b"/><circle cx="90.6" cy="353.3" r="0.45" fill="#6a6a6a"/><circle cx="86.6" cy="356.4" r="0.45" fill="#858585"/><circle cx="94.7" cy="356.5" r="0.45" fill="#5f5f5f"/><circle cx="97.7" cy="358.5" r="0.45" fill="#8f8f8f"/><circle cx="90.4" cy="361.9" r="0.45" fill="#5d5d5d"/><circle cx="87.3" cy="360.4" r="0.45" fill="#4c4c4c"/><circle cx="91.9" cy="354.8" r="0.45" fill="#737373"/><circle cx="89.0" cy="357.0" r="0.45" fill="#656565"/><circle cx="94.3" cy="357.8" r="0.45" fill="#5e5e5e"/><circle cx="84.5" cy="360.2" r="0.45" fill="#3f3f3f"/><circle cx="90.7" cy="361.0" r="0.45" fill="#949494"/><circle cx="87.6" cy="356.5" r="0.45" fill="#5d5d5d"/><circle cx="92.4" cy="361.6" r="0.45" fill="#676767"/><circle cx="90.8" cy="357.2" r="0.45" fill="#949494"/><circle cx="94.1" cy="358.5" r="0.45" fill="#5f5f5f"/><circle cx="86.9" cy="359.1" r="0.45" fill="#3f3f3f"/><circle cx="96.1" cy="360.1" r="0.45" fill="#595959"/><circle cx="91.7" cy="357.0" r="0.45" fill="#777777"/><circle cx="96.1" cy="353.7" r="0.45" fill="#717171"/><circle cx="90.5" cy="361.8" r="0.45" fill="#5a5a5a"/><circle cx="88.8" cy="362.4" r="0.45" fill="#777777"/><circle cx="86.3" cy="357.6" r="0.45" fill="#a0a0a0"/><circle cx="86.1" cy="353.1" r="0.45" fill="#4c4c4c"/><circle cx="89.5" cy="357.5" r="0.45" fill="#404040"/><circle cx="85.0" cy="360.9" r="0.45" fill="#818181"/><circle cx="90.4" cy="355.1" r="0.45" fill="#929292"/><circle cx="87.8" cy="361.4" r="0.45" fill="#6b6b6b"/><circle cx="91.8" cy="358.9" r="0.45" fill="#767676"/><circle cx="89.8" cy="356.7" r="0.45" fill="#5c5c5c"/><circle cx="84.4" cy="357.0" r="0.45" fill="#6b6b6b"/><circle cx="92.1" cy="358.2" r="0.45" fill="#8e8e8e"/><circle cx="93.5" cy="358.8" r="0.45" fill="#3f3f3f"/><circle cx="85.1" cy="355.9" r="0.45" fill="#505050"/><circle cx="89.2" cy="358.2" r="0.45" fill="#898989"/><circle cx="88.9" cy="353.6" r="0.45" fill="#4b4b4b"/></g><g filter="url(#bl07)"><ellipse cx="91" cy="350.4" rx="6.8" ry="4.9" fill="#000"/></g></g>
<g clip-path="url(#c4)"><g filter="url(#bl07)"><ellipse cx="159" cy="343.5" rx="5" ry="2.8" fill="#555"/><ellipse cx="159" cy="352" rx="3" ry="7" fill="#d5d5d5" transform="rotate(28 159 352)"/></g><g><circle cx="165.0" cy="345.7" r="0.5" fill="#2f2f2f"/><circle cx="176.8" cy="337.4" r="0.5" fill="#4a4a4a"/><circle cx="171.4" cy="342.0" r="0.5" fill="#454545"/><circle cx="176.3" cy="339.3" r="0.5" fill="#242424"/><circle cx="165.4" cy="340.9" r="0.5" fill="#010101"/><circle cx="159.3" cy="346.6" r="0.5" fill="#3d3d3d"/><circle cx="164.1" cy="341.6" r="0.5" fill="#414141"/><circle cx="171.0" cy="344.4" r="0.5" fill="#2e2e2e"/><circle cx="162.4" cy="341.6" r="0.5" fill="#252525"/><circle cx="172.6" cy="338.4" r="0.5" fill="#575757"/><circle cx="164.4" cy="343.6" r="0.5" fill="#3d3d3d"/><circle cx="172.5" cy="340.0" r="0.5" fill="#0f0f0f"/><circle cx="177.7" cy="340.0" r="0.5" fill="#0a0a0a"/><circle cx="175.8" cy="342.0" r="0.5" fill="#4d4d4d"/><circle cx="171.9" cy="342.4" r="0.5" fill="#535353"/><circle cx="169.9" cy="344.0" r="0.5" fill="#1b1b1b"/><circle cx="170.9" cy="341.1" r="0.5" fill="#151515"/><circle cx="167.5" cy="342.5" r="0.5" fill="#111111"/><circle cx="182.3" cy="341.2" r="0.5" fill="#080808"/><circle cx="167.3" cy="341.8" r="0.5" fill="#2a2a2a"/><circle cx="162.7" cy="345.0" r="0.5" fill="#060606"/><circle cx="170.8" cy="342.1" r="0.5" fill="#5a5a5a"/><circle cx="179.2" cy="342.2" r="0.5" fill="#0d0d0d"/><circle cx="153.1" cy="344.5" r="0.5" fill="#2a2a2a"/><circle cx="157.2" cy="346.5" r="0.5" fill="#1a1a1a"/><circle cx="176.6" cy="334.7" r="0.5" fill="#161616"/><circle cx="165.5" cy="343.4" r="0.5" fill="#353535"/><circle cx="174.5" cy="343.7" r="0.5" fill="#090909"/><circle cx="167.8" cy="343.0" r="0.5" fill="#3a3a3a"/><circle cx="166.2" cy="341.3" r="0.5" fill="#353535"/><circle cx="172.5" cy="339.1" r="0.5" fill="#454545"/><circle cx="162.5" cy="343.6" r="0.5" fill="#242424"/><circle cx="172.0" cy="344.2" r="0.5" fill="#282828"/><circle cx="176.7" cy="337.2" r="0.5" fill="#212121"/><circle cx="170.7" cy="339.1" r="0.5" fill="#353535"/><circle cx="167.8" cy="342.6" r="0.5" fill="#0c0c0c"/><circle cx="172.1" cy="342.8" r="0.5" fill="#353535"/><circle cx="161.4" cy="344.3" r="0.5" fill="#2e2e2e"/><circle cx="172.1" cy="341.9" r="0.5" fill="#1c1c1c"/><circle cx="178.2" cy="340.7" r="0.5" fill="#424242"/><circle cx="161.5" cy="341.4" r="0.5" fill="#4d4d4d"/><circle cx="173.0" cy="336.5" r="0.5" fill="#373737"/><circle cx="163.5" cy="345.6" r="0.5" fill="#2f2f2f"/><circle cx="166.7" cy="340.7" r="0.5" fill="#2d2d2d"/><circle cx="165.9" cy="342.1" r="0.5" fill="#585858"/><circle cx="164.0" cy="339.1" r="0.5" fill="#313131"/><circle cx="170.0" cy="340.9" r="0.5" fill="#313131"/><circle cx="170.1" cy="342.6" r="0.5" fill="#161616"/><circle cx="175.7" cy="338.8" r="0.5" fill="#303030"/><circle cx="163.4" cy="340.7" r="0.5" fill="#515151"/><circle cx="161.6" cy="343.5" r="0.5" fill="#444444"/><circle cx="171.9" cy="345.3" r="0.5" fill="#1c1c1c"/><circle cx="173.2" cy="341.1" r="0.5" fill="#595959"/><circle cx="166.6" cy="342.9" r="0.5" fill="#252525"/><circle cx="170.6" cy="340.8" r="0.5" fill="#515151"/><circle cx="160.0" cy="342.8" r="0.5" fill="#3f3f3f"/><circle cx="172.5" cy="342.0" r="0.5" fill="#090909"/><circle cx="178.4" cy="339.3" r="0.5" fill="#4c4c4c"/><circle cx="165.2" cy="343.2" r="0.5" fill="#424242"/><circle cx="165.8" cy="344.0" r="0.5" fill="#111111"/><circle cx="162.6" cy="348.3" r="0.5" fill="#575757"/><circle cx="167.7" cy="341.7" r="0.5" fill="#505050"/><circle cx="178.7" cy="340.7" r="0.5" fill="#0c0c0c"/><circle cx="166.8" cy="342.5" r="0.5" fill="#4e4e4e"/><circle cx="184.4" cy="343.7" r="0.5" fill="#494949"/><circle cx="170.0" cy="343.6" r="0.5" fill="#0a0a0a"/><circle cx="170.5" cy="337.9" r="0.5" fill="#3c3c3c"/><circle cx="175.3" cy="341.6" r="0.5" fill="#0f0f0f"/><circle cx="176.2" cy="342.3" r="0.5" fill="#343434"/><circle cx="173.7" cy="336.6" r="0.5" fill="#585858"/><circle cx="160.5" cy="341.6" r="0.5" fill="#383838"/><circle cx="174.3" cy="341.0" r="0.5" fill="#060606"/><circle cx="174.0" cy="341.3" r="0.5" fill="#151515"/><circle cx="165.8" cy="342.1" r="0.5" fill="#4e4e4e"/><circle cx="165.8" cy="347.1" r="0.5" fill="#353535"/><circle cx="174.5" cy="339.2" r="0.5" fill="#2c2c2c"/><circle cx="171.0" cy="345.6" r="0.5" fill="#4b4b4b"/><circle cx="170.8" cy="339.8" r="0.5" fill="#2a2a2a"/><circle cx="166.5" cy="342.5" r="0.5" fill="#3b3b3b"/><circle cx="173.3" cy="340.8" r="0.5" fill="#3b3b3b"/><circle cx="174.1" cy="341.2" r="0.5" fill="#191919"/><circle cx="163.0" cy="342.5" r="0.5" fill="#3e3e3e"/><circle cx="168.4" cy="343.1" r="0.5" fill="#545454"/><circle cx="175.1" cy="339.8" r="0.5" fill="#3f3f3f"/><circle cx="175.0" cy="339.4" r="0.5" fill="#0f0f0f"/><circle cx="166.9" cy="344.5" r="0.5" fill="#0b0b0b"/><circle cx="177.0" cy="337.9" r="0.5" fill="#101010"/><circle cx="173.3" cy="340.0" r="0.5" fill="#242424"/><circle cx="163.7" cy="340.3" r="0.5" fill="#2c2c2c"/><circle cx="164.5" cy="344.4" r="0.5" fill="#3b3b3b"/><circle cx="171.8" cy="336.7" r="0.5" fill="#404040"/><circle cx="165.8" cy="339.3" r="0.5" fill="#292929"/><circle cx="177.6" cy="340.0" r="0.5" fill="#2d2d2d"/><circle cx="178.2" cy="337.7" r="0.5" fill="#363636"/><circle cx="168.2" cy="340.6" r="0.5" fill="#2c2c2c"/><circle cx="176.9" cy="339.9" r="0.5" fill="#2f2f2f"/><circle cx="180.7" cy="341.2" r="0.5" fill="#070707"/><circle cx="159.5" cy="342.2" r="0.5" fill="#303030"/><circle cx="169.2" cy="343.2" r="0.5" fill="#2b2b2b"/><circle cx="177.0" cy="343.7" r="0.5" fill="#0a0a0a"/><circle cx="173.7" cy="342.8" r="0.5" fill="#3c3c3c"/><circle cx="171.2" cy="337.2" r="0.5" fill="#262626"/><circle cx="178.7" cy="339.7" r="0.5" fill="#0b0b0b"/><circle cx="159.5" cy="345.6" r="0.5" fill="#212121"/><circle cx="173.1" cy="340.3" r="0.5" fill="#262626"/><circle cx="156.3" cy="342.0" r="0.5" fill="#0c0c0c"/><circle cx="182.7" cy="344.5" r="0.5" fill="#191919"/><circle cx="175.1" cy="339.3" r="0.5" fill="#3a3a3a"/><circle cx="169.4" cy="344.4" r="0.5" fill="#4b4b4b"/><circle cx="168.7" cy="340.5" r="0.5" fill="#353535"/><circle cx="175.7" cy="337.6" r="0.5" fill="#060606"/><circle cx="168.3" cy="347.4" r="0.5" fill="#353535"/><circle cx="169.0" cy="342.5" r="0.5" fill="#353535"/><circle cx="175.8" cy="340.7" r="0.5" fill="#4c4c4c"/><circle cx="168.8" cy="343.5" r="0.5" fill="#080808"/><circle cx="171.3" cy="339.1" r="0.5" fill="#222222"/><circle cx="164.3" cy="342.6" r="0.5" fill="#484848"/><circle cx="155.8" cy="342.9" r="0.45" fill="#585858"/><circle cx="158.1" cy="341.6" r="0.45" fill="#5c5c5c"/><circle cx="160.6" cy="342.5" r="0.45" fill="#6d6d6d"/><circle cx="163.6" cy="344.1" r="0.45" fill="#444444"/><circle cx="161.8" cy="345.0" r="0.45" fill="#848484"/><circle cx="159.1" cy="343.6" r="0.45" fill="#212121"/><circle cx="156.9" cy="345.5" r="0.45" fill="#616161"/><circle cx="162.5" cy="345.6" r="0.45" fill="#515151"/><circle cx="161.3" cy="340.5" r="0.45" fill="#5d5d5d"/><circle cx="163.6" cy="344.9" r="0.45" fill="#404040"/><circle cx="152.0" cy="343.4" r="0.45" fill="#888888"/><circle cx="157.4" cy="339.5" r="0.45" fill="#303030"/><circle cx="157.7" cy="341.1" r="0.45" fill="#626262"/><circle cx="166.8" cy="340.8" r="0.45" fill="#606060"/><circle cx="163.7" cy="339.2" r="0.45" fill="#242424"/><circle cx="164.2" cy="339.6" r="0.45" fill="#626262"/><circle cx="152.0" cy="340.5" r="0.45" fill="#242424"/><circle cx="158.1" cy="342.8" r="0.45" fill="#1e1e1e"/><circle cx="162.6" cy="343.0" r="0.45" fill="#666666"/><circle cx="158.8" cy="348.6" r="0.45" fill="#7f7f7f"/><circle cx="152.7" cy="343.8" r="0.45" fill="#454545"/><circle cx="162.0" cy="341.2" r="0.45" fill="#484848"/><circle cx="161.2" cy="347.4" r="0.45" fill="#767676"/><circle cx="160.6" cy="341.6" r="0.45" fill="#282828"/><circle cx="155.8" cy="344.9" r="0.45" fill="#252525"/><circle cx="154.1" cy="341.5" r="0.45" fill="#272727"/><circle cx="165.0" cy="344.1" r="0.45" fill="#494949"/><circle cx="162.8" cy="346.3" r="0.45" fill="#4e4e4e"/><circle cx="162.1" cy="343.0" r="0.45" fill="#575757"/><circle cx="164.0" cy="345.7" r="0.45" fill="#5e5e5e"/><circle cx="163.1" cy="344.9" r="0.45" fill="#525252"/><circle cx="154.5" cy="343.2" r="0.45" fill="#2f2f2f"/><circle cx="151.2" cy="340.3" r="0.45" fill="#7c7c7c"/><circle cx="167.1" cy="341.0" r="0.45" fill="#3b3b3b"/><circle cx="159.2" cy="342.0" r="0.45" fill="#707070"/><circle cx="153.0" cy="343.9" r="0.45" fill="#727272"/><circle cx="163.9" cy="343.4" r="0.45" fill="#202020"/><circle cx="167.2" cy="347.6" r="0.45" fill="#7b7b7b"/><circle cx="170.3" cy="341.8" r="0.45" fill="#727272"/><circle cx="160.3" cy="345.3" r="0.45" fill="#828282"/><circle cx="168.0" cy="345.9" r="0.45" fill="#646464"/><circle cx="169.4" cy="347.3" r="0.45" fill="#797979"/><circle cx="157.9" cy="342.9" r="0.45" fill="#4a4a4a"/><circle cx="160.6" cy="340.7" r="0.45" fill="#404040"/><circle cx="165.9" cy="342.6" r="0.45" fill="#777777"/><circle cx="157.1" cy="346.6" r="0.45" fill="#303030"/><circle cx="159.5" cy="349.4" r="0.45" fill="#343434"/><circle cx="161.7" cy="349.5" r="0.45" fill="#222222"/><circle cx="167.7" cy="341.4" r="0.45" fill="#8a8a8a"/><circle cx="157.7" cy="341.7" r="0.45" fill="#757575"/><circle cx="166.5" cy="345.3" r="0.45" fill="#888888"/><circle cx="159.9" cy="342.7" r="0.45" fill="#505050"/><circle cx="166.8" cy="345.0" r="0.45" fill="#5c5c5c"/><circle cx="165.7" cy="344.4" r="0.45" fill="#757575"/><circle cx="153.6" cy="344.7" r="0.45" fill="#737373"/><circle cx="158.0" cy="345.8" r="0.45" fill="#252525"/><circle cx="158.9" cy="342.8" r="0.45" fill="#4e4e4e"/><circle cx="158.7" cy="339.2" r="0.45" fill="#595959"/><circle cx="162.4" cy="343.0" r="0.45" fill="#565656"/><circle cx="157.6" cy="340.8" r="0.45" fill="#2b2b2b"/><circle cx="167.4" cy="349.4" r="0.45" fill="#3d3d3d"/><circle cx="161.2" cy="342.4" r="0.45" fill="#535353"/><circle cx="162.6" cy="340.6" r="0.45" fill="#2f2f2f"/><circle cx="159.6" cy="343.1" r="0.45" fill="#787878"/><circle cx="154.3" cy="341.0" r="0.45" fill="#6c6c6c"/><circle cx="160.9" cy="344.4" r="0.45" fill="#6f6f6f"/><circle cx="166.0" cy="345.0" r="0.45" fill="#242424"/><circle cx="163.3" cy="341.0" r="0.45" fill="#242424"/><circle cx="157.0" cy="340.6" r="0.45" fill="#858585"/><circle cx="169.1" cy="345.9" r="0.45" fill="#878787"/><circle cx="165.0" cy="343.3" r="0.45" fill="#1f1f1f"/><circle cx="155.1" cy="341.6" r="0.45" fill="#333333"/><circle cx="164.0" cy="341.0" r="0.45" fill="#4c4c4c"/><circle cx="166.0" cy="344.8" r="0.45" fill="#474747"/><circle cx="150.7" cy="338.6" r="0.45" fill="#696969"/><circle cx="160.4" cy="344.1" r="0.45" fill="#6a6a6a"/><circle cx="165.0" cy="343.3" r="0.45" fill="#6f6f6f"/><circle cx="159.5" cy="343.7" r="0.45" fill="#474747"/><circle cx="161.4" cy="343.1" r="0.45" fill="#666666"/><circle cx="157.2" cy="344.7" r="0.45" fill="#767676"/><circle cx="164.2" cy="341.3" r="0.45" fill="#7d7d7d"/><circle cx="158.2" cy="344.3" r="0.45" fill="#6a6a6a"/><circle cx="155.8" cy="343.4" r="0.45" fill="#232323"/><circle cx="153.4" cy="349.1" r="0.45" fill="#373737"/><circle cx="156.6" cy="342.6" r="0.45" fill="#474747"/><circle cx="163.8" cy="343.7" r="0.45" fill="#767676"/><circle cx="158.7" cy="346.2" r="0.45" fill="#616161"/><circle cx="154.7" cy="341.1" r="0.45" fill="#4b4b4b"/><circle cx="163.8" cy="344.4" r="0.45" fill="#424242"/><circle cx="167.4" cy="342.3" r="0.45" fill="#848484"/><circle cx="158.2" cy="340.4" r="0.45" fill="#8c8c8c"/><circle cx="158.4" cy="345.7" r="0.45" fill="#4a4a4a"/><circle cx="165.1" cy="346.4" r="0.45" fill="#898989"/><circle cx="162.7" cy="340.9" r="0.45" fill="#6c6c6c"/><circle cx="163.2" cy="346.1" r="0.45" fill="#6d6d6d"/><circle cx="155.4" cy="344.5" r="0.45" fill="#4f4f4f"/><circle cx="165.3" cy="342.9" r="0.45" fill="#404040"/><circle cx="164.5" cy="344.4" r="0.45" fill="#878787"/><circle cx="166.1" cy="345.0" r="0.45" fill="#3f3f3f"/><circle cx="162.3" cy="344.3" r="0.45" fill="#585858"/><circle cx="156.9" cy="342.2" r="0.45" fill="#737373"/><circle cx="165.7" cy="343.0" r="0.45" fill="#383838"/><circle cx="167.8" cy="340.0" r="0.45" fill="#3e3e3e"/><circle cx="163.5" cy="342.2" r="0.45" fill="#6a6a6a"/><circle cx="158.4" cy="343.0" r="0.45" fill="#2a2a2a"/><circle cx="153.1" cy="343.2" r="0.45" fill="#3a3a3a"/><circle cx="158.9" cy="340.6" r="0.45" fill="#1e1e1e"/><circle cx="161.1" cy="342.4" r="0.45" fill="#8a8a8a"/><circle cx="166.3" cy="340.6" r="0.45" fill="#5d5d5d"/><circle cx="163.3" cy="341.3" r="0.45" fill="#575757"/><circle cx="159.6" cy="342.9" r="0.45" fill="#616161"/><circle cx="165.0" cy="343.6" r="0.45" fill="#2c2c2c"/><circle cx="158.7" cy="344.8" r="0.45" fill="#535353"/><circle cx="156.3" cy="347.1" r="0.45" fill="#686868"/><circle cx="163.8" cy="345.6" r="0.45" fill="#888888"/><circle cx="159.4" cy="345.4" r="0.45" fill="#434343"/><circle cx="155.5" cy="346.8" r="0.45" fill="#4c4c4c"/><circle cx="162.8" cy="348.7" r="0.45" fill="#2a2a2a"/><circle cx="167.3" cy="342.6" r="0.45" fill="#818181"/><circle cx="158.6" cy="343.0" r="0.45" fill="#323232"/><circle cx="165.0" cy="348.5" r="0.4" fill="#848484"/><circle cx="160.8" cy="340.0" r="0.4" fill="#7f7f7f"/><circle cx="158.1" cy="354.3" r="0.4" fill="#5c5c5c"/><circle cx="159.2" cy="353.3" r="0.4" fill="#999999"/><circle cx="159.0" cy="348.1" r="0.4" fill="#a0a0a0"/><circle cx="162.1" cy="351.5" r="0.4" fill="#727272"/><circle cx="158.8" cy="350.9" r="0.4" fill="#5d5d5d"/><circle cx="154.3" cy="357.3" r="0.4" fill="#9b9b9b"/><circle cx="161.3" cy="356.5" r="0.4" fill="#777777"/><circle cx="152.3" cy="361.1" r="0.4" fill="#737373"/><circle cx="157.8" cy="355.4" r="0.4" fill="#999999"/><circle cx="167.3" cy="347.7" r="0.4" fill="#9f9f9f"/><circle cx="155.2" cy="350.3" r="0.4" fill="#757575"/><circle cx="160.1" cy="354.9" r="0.4" fill="#5f5f5f"/><circle cx="164.3" cy="354.8" r="0.4" fill="#646464"/><circle cx="160.7" cy="350.9" r="0.4" fill="#919191"/><circle cx="153.8" cy="363.4" r="0.4" fill="#767676"/><circle cx="159.6" cy="357.2" r="0.4" fill="#616161"/><circle cx="159.2" cy="354.2" r="0.4" fill="#7b7b7b"/><circle cx="157.9" cy="352.5" r="0.4" fill="#a3a3a3"/><circle cx="153.1" cy="356.7" r="0.4" fill="#5a5a5a"/><circle cx="158.3" cy="349.4" r="0.4" fill="#787878"/><circle cx="165.6" cy="337.8" r="0.4" fill="#b2b2b2"/><circle cx="152.6" cy="350.2" r="0.4" fill="#696969"/><circle cx="157.4" cy="351.6" r="0.4" fill="#a0a0a0"/><circle cx="162.4" cy="352.9" r="0.4" fill="#868686"/><circle cx="158.4" cy="352.6" r="0.4" fill="#696969"/><circle cx="161.1" cy="356.1" r="0.4" fill="#959595"/><circle cx="163.2" cy="349.0" r="0.4" fill="#787878"/><circle cx="156.9" cy="361.0" r="0.4" fill="#a1a1a1"/><circle cx="159.3" cy="352.5" r="0.4" fill="#6a6a6a"/><circle cx="157.0" cy="351.9" r="0.4" fill="#a7a7a7"/><circle cx="163.4" cy="347.4" r="0.4" fill="#acacac"/><circle cx="161.1" cy="353.4" r="0.4" fill="#5d5d5d"/><circle cx="159.3" cy="346.0" r="0.4" fill="#a6a6a6"/><circle cx="158.8" cy="356.4" r="0.4" fill="#6c6c6c"/><circle cx="155.2" cy="355.0" r="0.4" fill="#aaaaaa"/><circle cx="165.2" cy="346.8" r="0.4" fill="#aeaeae"/><circle cx="154.2" cy="350.3" r="0.4" fill="#999999"/><circle cx="166.3" cy="343.9" r="0.4" fill="#757575"/><circle cx="157.0" cy="355.2" r="0.4" fill="#929292"/><circle cx="163.2" cy="345.6" r="0.4" fill="#6b6b6b"/><circle cx="155.8" cy="357.6" r="0.4" fill="#7f7f7f"/><circle cx="166.0" cy="340.2" r="0.4" fill="#7c7c7c"/><circle cx="154.9" cy="358.4" r="0.4" fill="#b0b0b0"/><circle cx="164.3" cy="348.3" r="0.4" fill="#a9a9a9"/><circle cx="158.1" cy="358.8" r="0.4" fill="#626262"/><circle cx="147.8" cy="362.9" r="0.4" fill="#8f8f8f"/><circle cx="157.7" cy="351.7" r="0.4" fill="#646464"/><circle cx="163.7" cy="347.7" r="0.4" fill="#929292"/><circle cx="168.1" cy="339.5" r="0.4" fill="#696969"/><circle cx="158.8" cy="348.4" r="0.4" fill="#6c6c6c"/><circle cx="162.4" cy="342.9" r="0.4" fill="#6b6b6b"/><circle cx="159.3" cy="353.9" r="0.4" fill="#909090"/><circle cx="159.4" cy="354.1" r="0.4" fill="#636363"/><circle cx="160.0" cy="342.8" r="0.4" fill="#a0a0a0"/><circle cx="162.9" cy="341.4" r="0.4" fill="#a8a8a8"/><circle cx="159.0" cy="346.3" r="0.4" fill="#aaaaaa"/><circle cx="159.2" cy="351.4" r="0.4" fill="#868686"/><circle cx="153.2" cy="354.6" r="0.4" fill="#6b6b6b"/><circle cx="159.3" cy="348.8" r="0.4" fill="#5f5f5f"/><circle cx="157.2" cy="357.4" r="0.4" fill="#9b9b9b"/><circle cx="157.9" cy="356.0" r="0.4" fill="#5c5c5c"/><circle cx="158.0" cy="352.9" r="0.4" fill="#8d8d8d"/><circle cx="159.3" cy="352.9" r="0.4" fill="#a3a3a3"/><circle cx="157.1" cy="354.6" r="0.4" fill="#737373"/><circle cx="165.3" cy="348.6" r="0.4" fill="#7d7d7d"/><circle cx="163.0" cy="344.5" r="0.4" fill="#7b7b7b"/><circle cx="162.0" cy="347.6" r="0.4" fill="#b0b0b0"/><circle cx="156.4" cy="359.4" r="0.4" fill="#6f6f6f"/><circle cx="163.4" cy="351.3" r="0.4" fill="#7a7a7a"/><circle cx="160.5" cy="350.6" r="0.4" fill="#686868"/><circle cx="163.9" cy="344.7" r="0.4" fill="#797979"/><circle cx="158.2" cy="354.7" r="0.4" fill="#b0b0b0"/><circle cx="157.8" cy="360.7" r="0.4" fill="#7c7c7c"/><circle cx="155.3" cy="364.0" r="0.4" fill="#5a5a5a"/><circle cx="166.6" cy="343.5" r="0.4" fill="#707070"/><circle cx="159.7" cy="341.7" r="0.4" fill="#a9a9a9"/><circle cx="155.6" cy="360.1" r="0.4" fill="#666666"/><circle cx="154.7" cy="356.0" r="0.4" fill="#797979"/></g><g filter="url(#bl07)"><ellipse cx="171.5" cy="341" rx="10" ry="3.5" fill="#000" transform="rotate(-17 171.5 341)"/></g></g>
<rect x="85.3" y="279.5" width="54.2" height="37.0" fill="none" stroke="#747474" stroke-width="1"/>
<path d="M97.3 279.5 V316.5 M85.3 307.3 H139.5" stroke="#747474" stroke-width="1"/>
<path d="M81.7 278.4 l1.4 1.2 l-1 1.4 M81.7 287.3 l1.4 1.2 l-1 1.4 M81.7 296.2 l1.4 1.2 l-1 1.4 M81.7 305.1 l1.4 1.2 l-1 1.4 M81.7 314.1 l1.4 1.2 l-1 1.4 M83.6 318.7 q0.8 1.5 1.7 0.6 t1.7 -0.5 M97.1 318.7 q0.8 1.5 1.7 0.6 t1.7 -0.5 M110.7 318.7 q0.8 1.5 1.7 0.6 t1.7 -0.5 M124.2 318.7 q0.8 1.5 1.7 0.6 t1.7 -0.5 M137.8 318.7 q0.8 1.5 1.7 0.6 t1.7 -0.5 " fill="none" stroke="#333" stroke-width="1"/>
<rect x="153.4" y="279.2" width="55.3" height="37.0" fill="none" stroke="#747474" stroke-width="1"/>
<path d="M166.2 279.2 V316.2 M153.4 307.1 H208.7" stroke="#747474" stroke-width="1"/>
<path d="M149.8 278.1 l1.4 1.2 l-1 1.4 M149.8 287.0 l1.4 1.2 l-1 1.4 M149.8 295.9 l1.4 1.2 l-1 1.4 M149.8 304.8 l1.4 1.2 l-1 1.4 M149.8 313.8 l1.4 1.2 l-1 1.4 M151.7 318.4 q0.8 1.5 1.7 0.6 t1.7 -0.5 M165.5 318.4 q0.8 1.5 1.7 0.6 t1.7 -0.5 M179.4 318.4 q0.8 1.5 1.7 0.6 t1.7 -0.5 M193.2 318.4 q0.8 1.5 1.7 0.6 t1.7 -0.5 M207.0 318.4 q0.8 1.5 1.7 0.6 t1.7 -0.5 " fill="none" stroke="#333" stroke-width="1"/>
<rect x="85.3" y="327.2" width="54.2" height="36.8" fill="none" stroke="#747474" stroke-width="1"/>
<path d="M97.3 327.2 V364 M85.3 355.4 H139.5" stroke="#747474" stroke-width="1"/>
<path d="M81.7 326.1 l1.4 1.2 l-1 1.4 M81.7 335.0 l1.4 1.2 l-1 1.4 M81.7 343.8 l1.4 1.2 l-1 1.4 M81.7 352.7 l1.4 1.2 l-1 1.4 M81.7 361.6 l1.4 1.2 l-1 1.4 M83.6 366.2 q0.8 1.5 1.7 0.6 t1.7 -0.5 M97.1 366.2 q0.8 1.5 1.7 0.6 t1.7 -0.5 M110.7 366.2 q0.8 1.5 1.7 0.6 t1.7 -0.5 M124.2 366.2 q0.8 1.5 1.7 0.6 t1.7 -0.5 M137.8 366.2 q0.8 1.5 1.7 0.6 t1.7 -0.5 " fill="none" stroke="#333" stroke-width="1"/>
<rect x="153.4" y="327.4" width="55.3" height="36.8" fill="none" stroke="#747474" stroke-width="1"/>
<path d="M166.2 327.4 V364.2 M153.4 355.1 H208.7" stroke="#747474" stroke-width="1"/>
<path d="M149.8 326.3 l1.4 1.2 l-1 1.4 M149.8 335.2 l1.4 1.2 l-1 1.4 M149.8 344.0 l1.4 1.2 l-1 1.4 M149.8 352.9 l1.4 1.2 l-1 1.4 M149.8 361.8 l1.4 1.2 l-1 1.4 M151.7 366.4 q0.8 1.5 1.7 0.6 t1.7 -0.5 M165.5 366.4 q0.8 1.5 1.7 0.6 t1.7 -0.5 M179.4 366.4 q0.8 1.5 1.7 0.6 t1.7 -0.5 M193.2 366.4 q0.8 1.5 1.7 0.6 t1.7 -0.5 M207.0 366.4 q0.8 1.5 1.7 0.6 t1.7 -0.5 " fill="none" stroke="#333" stroke-width="1"/>
<g class="ser b" font-size="10" fill="#000">
<text x="115.5" y="291.8">9.6%</text>
<text x="180" y="291.7">95.4%</text>
<text x="115.5" y="338.1">9.2%</text>
<text x="181.8" y="338.3">84.2%</text>
</g>
<g class="ser b" font-size="9.6" fill="#000" letter-spacing="0.6">
<text x="65.6" y="297.8">#1</text>
<text x="65.2" y="347.4">#2</text>
<text x="219" y="298.2">#3</text>
<text x="219" y="347.4">#4</text>
</g>
<path d="M57 368.3 V279" stroke="#111" stroke-width="1.3"/>
<path d="M57 273.6 L60.3 279.9 L53.7 279.9 Z" fill="#000"/>
<path d="M85.3 382.1 H204.5" stroke="#111" stroke-width="1.3"/>
<path d="M210.3 382.2 L203.8 379.3 L203.8 385.1 Z" fill="#000"/>
<text class="ser b" font-size="11.5" text-anchor="middle" transform="translate(50.8 323.6) rotate(-90)">CD19</text>
<text class="ser b" font-size="11.8" x="131.2" y="397">sIgM</text>
</g>

<!-- ============ PANEL B ============ -->
<g id="panelB">
<g stroke="#000" fill="none">
<path d="M296.2 30 V176.8" stroke-width="2"/>
<path d="M295.2 175.9 H488.5" stroke-width="2"/>
<path d="M291.5 34.2 H296 M291.5 61.5 H296 M291.5 88.8 H296 M291.5 116.1 H296 M291.5 143.4 H296 M291.5 170.6 H296" stroke-width="1.6"/>
<path d="M323 176 V180 M352.4 176 V180 M381.8 176 V180 M411.2 176 V180 M440.6 176 V180 M470 176 V180" stroke-width="1.6"/>
</g>
<g class="ser b" font-size="12" fill="#000" text-anchor="end">
<text x="287" y="38.8">100</text>
<text x="287" y="66.1">80</text>
<text x="287" y="93.4">60</text>
<text x="287" y="120.7">40</text>
<text x="287" y="148">20</text>
<text x="287" y="175.2">0</text>
</g>
<g class="ser b" font-size="12" fill="#000" text-anchor="middle">
<text x="320" y="192.7">20</text>
<text x="349.5" y="192.7">40</text>
<text x="379" y="192.7">60</text>
<text x="408.5" y="192.7">80</text>
<text x="438" y="192.7">100</text>
<text x="467.5" y="192.7">120</text>
<text x="399" y="205.8">time [days]</text>
</g>
<text class="ser b" font-size="11.6" text-anchor="middle" transform="translate(268.9 94.5) rotate(-90)">% survival</text>
<path d="M296 33.8 H348.8 V53.8 H404.4 V73 H420.2 V93.5 H430.6 V113.3 H433.7 V132.7 H442.3 V152.8 H482 V172.3" fill="none" stroke="#222" stroke-width="1.4"/>
<path d="M343.1 33.8 V56.7 H376.5 V80 H380.6 V103 H389.8 V126.3 H396.9 V149.4 H426.2 V169.5" fill="none" stroke="#111" stroke-width="1.6" stroke-dasharray="3 2.6"/>
<path d="M430 44.6 H444.3" stroke="#222" stroke-width="1.5"/>
<path d="M430 58.9 H444.3" stroke="#111" stroke-width="1.6" stroke-dasharray="3 2.6"/>
<g class="ser b" font-size="10" fill="#000">
<text x="448" y="48.6">BCL-2</text>
<text x="448" y="63.3">p53</text>
</g>
</g>

<!-- ============ PANEL D ============ -->
<g id="panelD">
<g stroke="#000" fill="none">
<path d="M296.3 241 V386.3" stroke-width="2"/>
<path d="M293 385.3 H488.5" stroke-width="2"/>
<path d="M293 243.5 H296 M293 271.9 H296 M293 300.2 H296 M293 328.6 H296 M293 356.9 H296" stroke-width="1.6"/>
<path d="M295.3 385 V389.6 M334 385 V389.6 M372.7 385 V389.6 M411.5 385 V389.6 M450 385 V389.6 M488.5 385 V389.6" stroke-width="1.6"/>
</g>
<g class="ser b" font-size="12" fill="#000" text-anchor="end">
<text x="289.3" y="248.7">100</text>
<text x="289.3" y="277.1">80</text>
<text x="289.3" y="305.4">60</text>
<text x="289.3" y="333.8">40</text>
<text x="289.3" y="362.1">20</text>
<text x="289.3" y="391">0</text>
</g>
<g class="ser b" font-size="12" fill="#000" text-anchor="middle">
<text x="294.5" y="403.3">0</text>
<text x="333.3" y="403.3">10</text>
<text x="371.8" y="403.3">20</text>
<text x="410.5" y="403.3">30</text>
<text x="449.2" y="403.3">40</text>
<text x="487.8" y="403.3">50</text>
<text x="398.2" y="415.8">time [days]</text>
</g>
<text class="ser b" font-size="11.6" text-anchor="middle" transform="translate(268.6 311.2) rotate(-90)">% survival</text>
<path d="M296 243.6 H365.7 V252.5 H369.5 V281 H376.9 V290.4 H396.8 V300 H404.1 V309.6 H431.1 V318.2 H442.8 V337.8 H450.7 V347.8 H454.5 V366.8 H457.9 V375.7 H473.2 V385" fill="none" stroke="#000" stroke-width="2" stroke-linejoin="round"/>
<g fill="#000"><circle cx="346.5" cy="246.2" r="1.05"/><circle cx="346.5" cy="252.7" r="1.05"/><circle cx="346.5" cy="259.1" r="1.05"/><circle cx="346.5" cy="265.5" r="1.05"/><circle cx="349.8" cy="268.2" r="1.05"/><circle cx="354.2" cy="269.9" r="1.05"/><circle cx="354.2" cy="276.2" r="1.05"/><circle cx="354.2" cy="282.5" r="1.05"/><circle cx="357.8" cy="285.1" r="1.05"/><circle cx="361.7" cy="286.8" r="1.05"/><circle cx="361.7" cy="293.4" r="1.05"/><circle cx="361.7" cy="299.9" r="1.05"/><circle cx="361.7" cy="306.3" r="1.05"/><circle cx="363.8" cy="310.2" r="1.05"/><circle cx="369.7" cy="310.2" r="1.05"/><circle cx="373.2" cy="312.8" r="1.05"/><circle cx="373.2" cy="319.1" r="1.05"/><circle cx="373.2" cy="325.6" r="1.05"/><circle cx="377.3" cy="328" r="1.05"/><circle cx="377.3" cy="334" r="1.05"/><circle cx="381.1" cy="336.4" r="1.05"/><circle cx="381.1" cy="342.7" r="1.05"/><circle cx="381.1" cy="349.1" r="1.05"/><circle cx="381.1" cy="355.6" r="1.05"/><circle cx="381.1" cy="362" r="1.05"/><circle cx="381.1" cy="368.5" r="1.05"/><circle cx="386" cy="368.8" r="1.05"/><circle cx="391.5" cy="368.8" r="1.05"/><circle cx="397.3" cy="368.8" r="1.05"/><circle cx="403.1" cy="368.8" r="1.05"/><circle cx="403.8" cy="374.8" r="1.05"/><circle cx="403.8" cy="381.2" r="1.05"/><circle cx="426.5" cy="266.9" r="1.05"/><circle cx="433" cy="266.9" r="1.05"/><circle cx="439" cy="266.9" r="1.05"/></g>
<path d="M425.6 253 H440" stroke="#000" stroke-width="2.6"/>

<g class="ser b" font-size="10" fill="#000">
<text x="447.8" y="251.5">BCL-2<tspan font-size="6.5" dy="-4">high</tspan><tspan dy="4">/sIgM</tspan><tspan font-size="6.5" dy="-4">+</tspan></text>
<text x="447.8" y="269.4">BCL-2<tspan font-size="6.5" dy="-4">neg</tspan><tspan dy="4">/sIgM</tspan><tspan font-size="6.5" dy="-4">-</tspan></text>
</g>
</g>

</svg>
</body></html>
